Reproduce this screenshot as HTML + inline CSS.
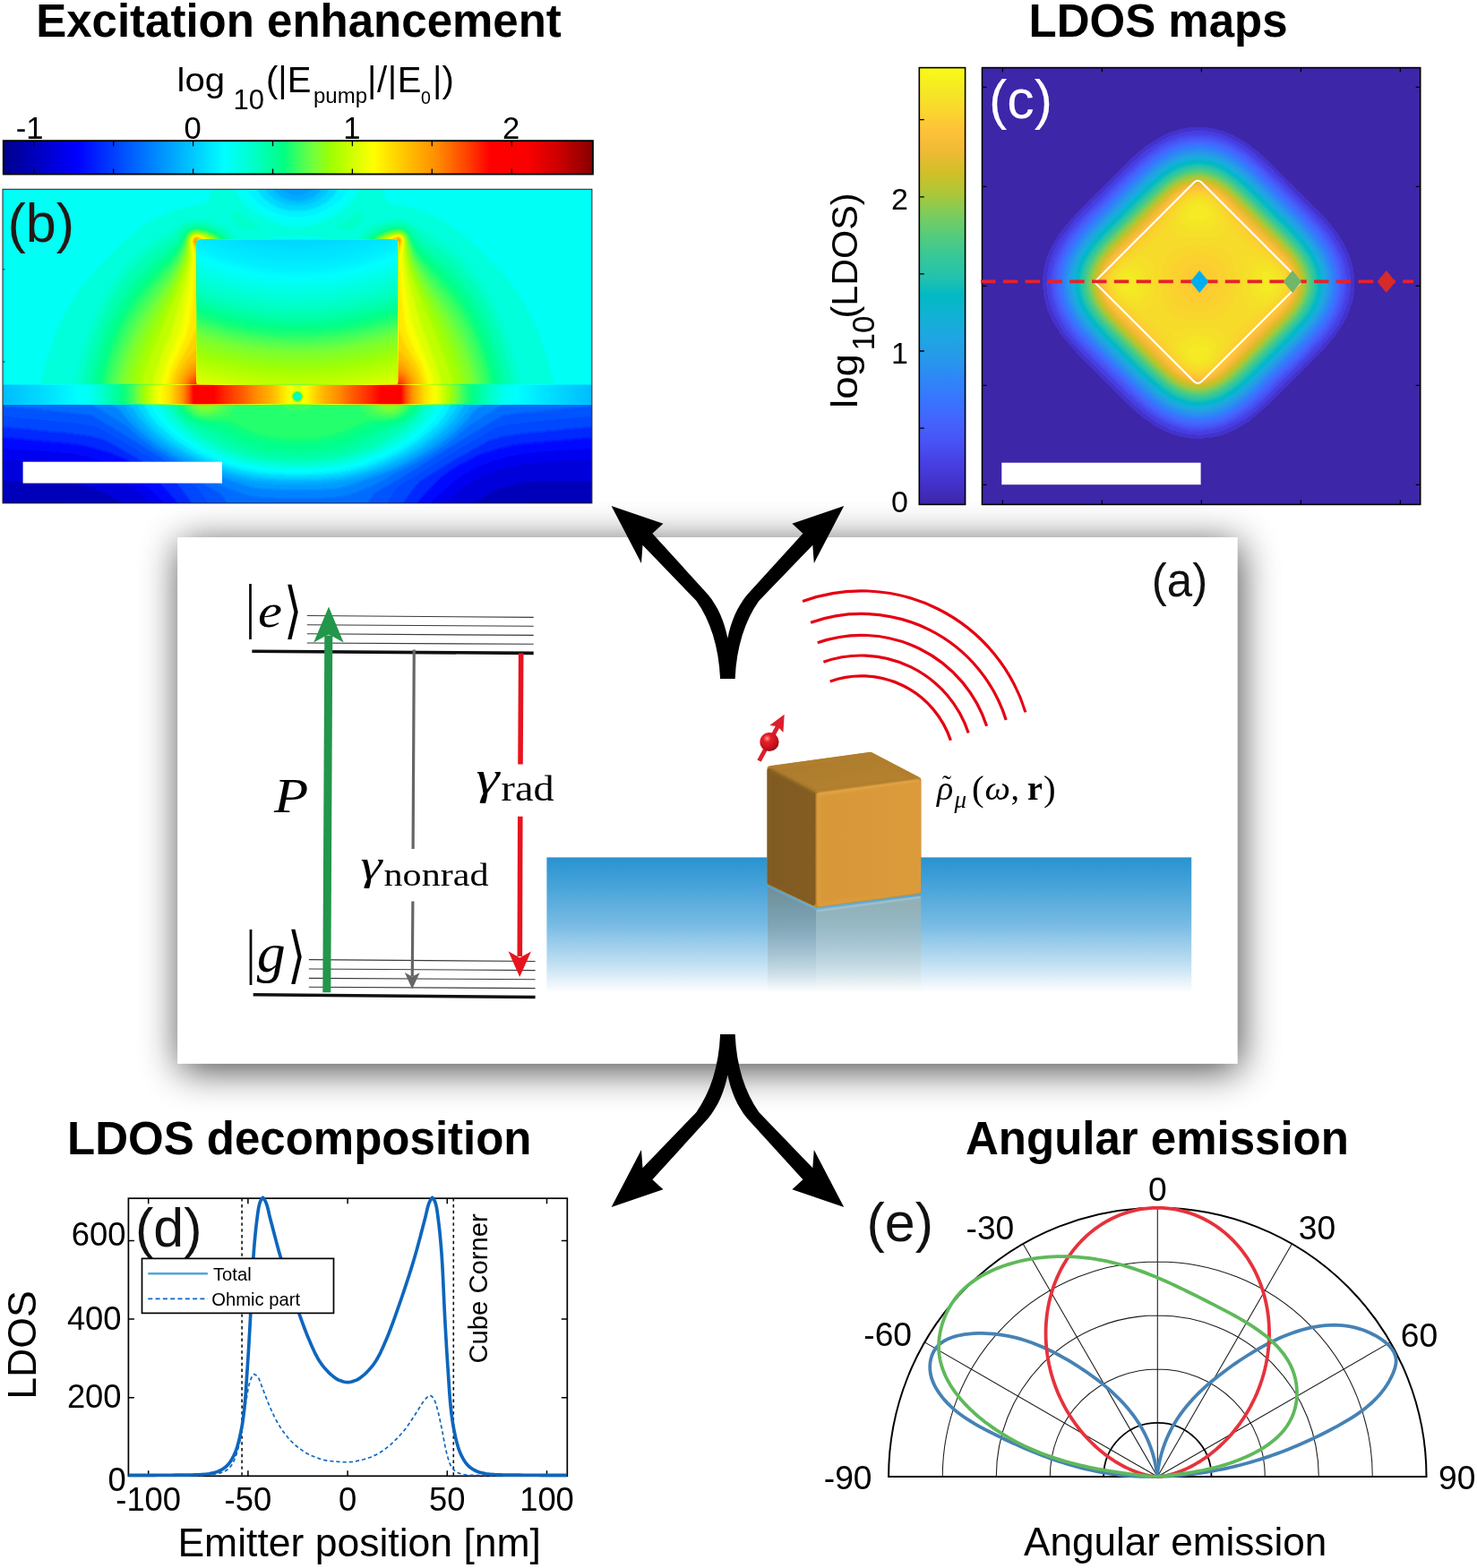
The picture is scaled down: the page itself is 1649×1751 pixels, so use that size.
<!DOCTYPE html>
<html lang="en"><head><meta charset="utf-8"><title>Figure</title>
<style>html,body{margin:0;padding:0;background:#fff;overflow:hidden}svg{display:block}text{white-space:pre}</style></head>
<body><svg width="1649" height="1751" viewBox="0 0 1649 1751">
<defs><filter id="bl1" x="-50%" y="-50%" width="200%" height="200%"><feGaussianBlur stdDeviation="1.2"/></filter></defs>
<rect width="1649" height="1751" fill="#fff"/>
<!-- sec_panel -->
<defs><filter id="fsh" x="-20%" y="-20%" width="140%" height="140%" color-interpolation-filters="sRGB"><feGaussianBlur stdDeviation="22"/></filter></defs>
<rect x="201" y="607" width="1183" height="588" fill="#000" opacity="0.72" filter="url(#fsh)"/>
<rect x="198.1" y="600" width="1183.6" height="587.9" fill="#fff"/>
<!-- sec_b -->
<text x="40.2" y="40.7" font-family='"Liberation Sans", sans-serif' font-weight="bold" font-size="51">Excitation enhancement</text>
<g font-family='"Liberation Sans", sans-serif' fill="#000">
<text font-size="40"><tspan x="197.5" y="102" font-size="37.5" textLength="53.5" lengthAdjust="spacingAndGlyphs">log</tspan><tspan x="260.6" y="121.6" font-size="31">10</tspan><tspan x="297" y="102.6">(|E</tspan><tspan x="350" y="114.5" font-size="24">pump</tspan><tspan x="410" y="102.6" letter-spacing="0.6">|/|E</tspan><tspan x="470" y="116" font-size="19.5">0</tspan><tspan x="483" y="102.6">|)</tspan></text>
<text x="33.1" y="154.7" font-size="34.6" text-anchor="middle">-1</text>
<text x="215.1" y="154.7" font-size="34.6" text-anchor="middle">0</text>
<text x="392.9" y="154.7" font-size="34.6" text-anchor="middle">1</text>
<text x="570.7" y="154.7" font-size="34.6" text-anchor="middle">2</text>
</g>
<linearGradient id="gjet" x1="0" x2="1" y1="0" y2="0"><stop offset="0.0" stop-color="#00008c"/><stop offset="0.125" stop-color="#0000ff"/><stop offset="0.25" stop-color="#0080ff"/><stop offset="0.375" stop-color="#00ffff"/><stop offset="0.425" stop-color="#00ffc8"/><stop offset="0.476" stop-color="#00ff82"/><stop offset="0.5" stop-color="#3cff5f"/><stop offset="0.526" stop-color="#73ff3c"/><stop offset="0.557" stop-color="#a0ff00"/><stop offset="0.593" stop-color="#d2ff00"/><stop offset="0.628" stop-color="#ffff00"/><stop offset="0.668" stop-color="#ffd200"/><stop offset="0.736" stop-color="#ff8c00"/><stop offset="0.79" stop-color="#ff3c00"/><stop offset="0.825" stop-color="#ff0000"/><stop offset="0.89" stop-color="#fa0000"/><stop offset="0.946" stop-color="#c80000"/><stop offset="1.0" stop-color="#870000"/></linearGradient>
<rect x="3.8" y="157.2" width="658.1" height="37.3" fill="url(#gjet)" stroke="#000" stroke-width="1.9"/>
<path d="M37.8 157.2v6M37.8 194.5v-6M126.7 157.2v6M126.7 194.5v-6M215.6 157.2v6M215.6 194.5v-6M304.5 157.2v6M304.5 194.5v-6M393.4 157.2v6M393.4 194.5v-6M482.3 157.2v6M482.3 194.5v-6M571.2 157.2v6M571.2 194.5v-6" stroke="#000" stroke-width="1.3" fill="none"/>
<defs>
<filter id="fjet" x="0" y="0" width="100%" height="100%" color-interpolation-filters="sRGB" filterUnits="objectBoundingBox">
<feComponentTransfer><feFuncR type="table" tableValues="0 0 0 0 0 0 0 0 0 0 0 0 0 0 0 0 0 0 0 0 0 0 0 0 0 0 0 0 0 0 0 0.082 0.235 0.365 0.481 0.57 0.657 0.743 0.827 0.906 0.985 1 1 1 1 1 1 1 1 1 1 1 1 0.999 0.994 0.99 0.985 0.978 0.923 0.869 0.814 0.751 0.677 0.603 0.529"/><feFuncG type="table" tableValues="0 0 0 0 0 0 0 0 0 0.063 0.125 0.188 0.251 0.314 0.376 0.439 0.502 0.564 0.626 0.689 0.751 0.813 0.875 0.938 1 1 1 1 1 1 1 1 1 1 1 1 1 1 1 1 1 0.944 0.875 0.808 0.745 0.682 0.619 0.556 0.468 0.377 0.286 0.189 0.084 0 0 0 0 0 0 0 0 0 0 0 0"/><feFuncB type="table" tableValues="0.549 0.605 0.662 0.718 0.775 0.831 0.887 0.944 1 1 1 1 1 1 1 1 1 1 1 1 1 1 1 1 1 0.933 0.865 0.798 0.717 0.633 0.549 0.462 0.373 0.29 0.195 0.077 0 0 0 0 0 0 0 0 0 0 0 0 0 0 0 0 0 0 0 0 0 0 0 0 0 0 0 0 0"/></feComponentTransfer></filter>
<filter id="bl2" x="-5%" y="-5%" width="110%" height="110%"><feGaussianBlur stdDeviation="1.6"/></filter>
<filter id="bl3" x="-50%" y="-50%" width="200%" height="200%"><feGaussianBlur stdDeviation="3"/></filter>
<clipPath id="cpB"><rect x="3.0" y="211.3" width="657.9" height="350.6"/></clipPath>
<clipPath id="cpTop"><path d="M3.0 211.3H660.9V429.5H3.0Z"/></clipPath>
<clipPath id="cpCube"><rect x="219.1" y="267.3" width="225.5" height="162.2" rx="3.5"/></clipPath>
<clipPath id="cpSub"><rect x="3.0" y="451.7" width="657.9" height="110.2"/></clipPath>
<radialGradient id="gCubeIn" gradientUnits="userSpaceOnUse" cx="332.0" cy="40" r="420">
 <stop offset="0.5" stop-color="#525252"/><stop offset="0.62" stop-color="#5c5c5c"/><stop offset="0.74" stop-color="#707070"/><stop offset="0.84" stop-color="#878787"/><stop offset="0.93" stop-color="#959595"/><stop offset="1" stop-color="#a1a1a1"/></radialGradient>
<linearGradient id="gGap" gradientUnits="userSpaceOnUse" x1="332.0" x2="660.9" y1="0" y2="0">
 <stop offset="0" stop-color="#999999"/><stop offset="0.03" stop-color="#a1a1a1"/><stop offset="0.09" stop-color="#b2b2b2"/><stop offset="0.18" stop-color="#c3c3c3"/>
 <stop offset="0.25" stop-color="#cdcdcd"/><stop offset="0.30" stop-color="#d6d6d6"/><stop offset="0.345" stop-color="#d9d9d9"/><stop offset="0.365" stop-color="#c9c9c9"/><stop offset="0.39" stop-color="#bababa"/><stop offset="0.43" stop-color="#a8a8a8"/>
 <stop offset="0.48" stop-color="#9c9c9c"/><stop offset="0.56" stop-color="#808080"/><stop offset="0.70" stop-color="#636363"/><stop offset="0.85" stop-color="#585858"/><stop offset="1" stop-color="#4f4f4f"/></linearGradient>
<linearGradient id="gSubV" gradientUnits="userSpaceOnUse" x1="0" x2="0" y1="451.7" y2="561.9">
 <stop offset="0" stop-color="#333333"/><stop offset="0.5" stop-color="#1d1d1d"/><stop offset="1" stop-color="#000000"/></linearGradient>
</defs>
<g clip-path="url(#cpB)"><g filter="url(#fjet)">
<rect x="1.0" y="209.3" width="661.9" height="354.6" fill="#626262"/>
<g clip-path="url(#cpTop)"><g filter="url(#bl2)"><rect x="-5.0" y="203.3" width="673.9" height="234.2" fill="#414141"/>
<path fill="#464646" d="M-5 203.5l326.5 0 2 3 1.5 1.5 3 1.5 4.5 0.5 4-0.5 2.5-1.5 1.5-1.5 2-3 327.5 0 0 235.5-675 0z"/>
<path fill="#4c4c4c" d="M-5 203.5l316 0 0.5 3 1.5 3 4.5 4.5 3 1.5 4.5 2 7.5 1 7.5-1.5 6.5-3 4.5-4.5 1.5-3 0.5-3 317 0 0 235.5-675 0z"/>
<path fill="#515151" d="M-5 203.5l307.5 0 1 4.5 2 3.5 3 4 3.5 3 5 3 5 1.5 4.5 1 6 0.5 6-0.5 4.5-1 4.5-2 4.5-2.5 3.5-3 3.5-4.5 1.5-3 1-4.5 308.5 0 0 235.5-675 0z"/>
<path fill="#575757" d="M-5 203.5l299 0 1.5 6 2.5 4.5 3.5 4.5 5.5 4.5 6 3 6 2.5 6 1 7.5 0.5 7.5-0.5 6-1.5 6-2.5 6-3.5 4.5-3.5 3.5-4.5 2.5-4.5 1.5-6 300 0 0 235.5-675 0z"/>
<path fill="#5d5d5d" d="M-5 203.5l289.5 0 2 7.5 3.5 6 5.5 6 5.5 4 7.5 4.5 7.5 2.5 7.5 1.5 9 0.5 9-0.5 7.5-2 7.5-2.5 7.5-4.5 6-5 5-6 3-6 1.5-6 290.5 0 0 235.5-675 0z"/>
<path fill="#626262" d="M-5 203.5l277.5 0 2 7.5 4.5 7.5 6.5 7.5 7.5 6 9.5 5 9 3.5 10.5 2 10.5 1 10.5-1 10.5-2.5 9-3.5 9-5 7.5-6 6-7 4.5-7.5 2-7.5 278.5 0 0 235.5-675 0z"/>
<path fill="#686868" d="M238.5 203.5l22 0 2.5 9 5 9 6 7.5 9 7.5 12 7 13.5 6 12 3.5 12 1 12-1.5 12-3.5 13.5-6 10.5-6.5 9-7.5 6.5-7.5 5-9 2.5-9 22 0 4 16.5 2 4.5 1.5 1.5 4.5 2 18 3 15 4.5 15 6 16.5 9.5 13.5 9.5 13.5 12 27.5 28.5 10 11 9 11.5 8.5 13.5 7.5 13.5 7 15 6 15 6 18 10 40.5-577 0 5.5-24 5-18 5.5-16.5 5.5-15 7-15 8-13.5 8.5-13.5 9.5-12 9.5-10.5 27.5-28.5 13-11.5 13.5-10 15-8.5 16.5-7 15-4.5 19.5-3.5 4-1.5 2-3 1-3zM311.5 264.5l-13 2 4 1.5 4.5 0.5 25.5 0.5 24-0.5 5-0.5 4-1.5-12-1.5-15-1z"/>
<path fill="#6c6c6c" d="M260 236.5l2-1 1.5 0.5 6 3.5 15 10.5 3.5 3 2.5 3-6 1-7.5-0.5-4.5-0.5-7-3-3.5-3-2.5-4.5-0.5-6zM400 236.5l3-1 1 1 1 1.5 0.5 3-1 4.5-1 3-3.5 3.5-6 3-6 1.5-9 0.5-5.5-1 2.5-3 3.5-3 13-9.5zM213.5 245.5l8-1 9 1 9 2.5 10.5 4 6.5 4 6.5 10.5 3.5 6.5 3 3.5 3 2 6 3 6 1.5 15 1.5 64.5 0 9-0.5 7.5-1 7.5-2.5 6-4 3.5-4 3-6 7-10.5 6-4 13.5-5 13.5-2.5 6 0.5 4.5 0.5 9 3.5 34.5 21 13.5 10.5 9 8.5 7.5 8 7.5 10 7.5 10.5 7 12 7 13.5 6.5 15 5.5 15 5 15 4.5 16.5 7 34.5-500.5 0 4-19.5 3.5-16.5 4.5-16.5 5.5-16.5 6.5-16.5 7-15 7.5-13.5 7.5-12 7.5-10.5 8.5-10 9-9 9-8 9-6 18-11 13.5-8.5 6-3z"/>
<path fill="#6f6f6f" d="M217 248.5l9 0 9 2.5 10.5 4.5 7.5 5 5.5 6 2 6 3 6 10 15 4 7.5 2.5 7.5 5 22.5 10.5 55.5 3.5 27 1.5 25.5-211 0 3-16.5 3.5-18 4.5-16.5 5-15 6-15 6-13.5 6.5-12 7-12 7.5-10.5 7.5-9 8-8.5 7.5-6.5 10.5-8 18-11 11-11 4-3 6-3.5zM441 248.5l5.5-0.5 4.5 1 4.5 2 4.5 2.5 13.5 13 19.5 12.5 13.5 10.5 12 12.5 11 14 8 12 7.5 13.5 6 13.5 6 15 5.5 16.5 4.5 16.5 4 18 3 18-210.5 0 1-24 3.5-25.5 10-57 5-22.5 2.5-7.5 4.5-9 11.5-17 4-10 4-4.5 5.5-5 7.5-4 9-3z"/>
<path fill="#717171" d="M212 251.5l5-1.5 6 0 7.5 1.5 6 2 6 2.5 6 3.5 6 5.5 2 3 2.5 9 7 18 4.5 16.5 6 34.5 7.5 51 2.5 22.5 1 19.5-193.5 0 2.5-15 3.5-16.5 4-15 4-13.5 5-13.5 6-13.5 6-12 6.5-11 12-17 13.5-15 12-10 24-17 3-3 7-9.5 5-4.5zM434.5 251.5l7.5-1.5 6 0.5 4.5 1 5 3 4.5 4.5 7 9.5 6 4.5 19.5 13.5 12 10.5 9.5 10 9.5 12 8 12 7.5 13.5 6.5 13.5 6 15 5 15 4.5 16.5 4 18 2.5 16.5-193 0 0.5-21 3-24 10.5-66 3-18 3-12 2.5-7.5 6.5-15 2.5-9 5.5-5.5 6-4 7.5-3.5z"/>
<path fill="#737373" d="M212.5 253l4.5-1.5 4.5 0 6 1 7.5 2 7.5 3.5 4.5 2.5 5 4.5 2 3 2 8 5.5 19 4 21 12.5 88.5 2 18 0.5 16.5-182 0 5.5-30 7.5-27 5-13.5 5.5-12 5.5-12 6.5-10.5 10-15 11.5-13.5 13-12 24.5-19.5 6-6 2-4.5 3-4.5 4-4zM435 253l7-1.5 6 0.5 4.5 1 4 3 4.5 4.5 4 7.5 4 4.5 7.5 6.5 18 14 9 7.5 10.5 11.5 10 13 8 12 6.5 12 6 13.5 5.5 13.5 5 15 4 15 3.5 16.5 3 16.5-182 0 0.5-21 3-24 12-82.5 4.5-22.5 7-22.5 4.5-4.5 6-4 6-2.5z"/>
<path fill="#767676" d="M218 253l8 0.5 10.5 3 6 3 4.5 3 4.5 4 0.5 1.5 6.5 27 3 19.5 12 93 1.5 16.5 0.5 15-173 0 5.5-28.5 7.5-27 9.5-24 6-12 6-10.5 10.5-15 11-13 10-9.5 18.5-16 7.5-7 6-7.5 3.5-7 2.5-4 3-2.5 3-1.5zM443 253l5 0 3 1 3 1.5 3 2.5 3 4 3 6.5 6 8 7.5 7 19 16 9 9 11 12 10.5 15 6 10.5 6 11.5 10 24.5 7.5 27 6 30-173 0 0.5-15 1-16.5 12-93 3.5-19.5 6-27 1-1.5 3-3 8.5-5.5 9-3.5z"/>
<path fill="#787878" d="M215 254.5l3.5-0.5 4.5 0 10.5 2.5 10.5 5.5 4.5 3 2 3 5 25.5 3 21 11.5 97.5 1 15 0 12-164.5 0 5-27 6.5-24 8.5-22.5 11-21.5 9-14 10-12.5 11.5-12 25-23.5 7.5-10 6-11.5 4.5-4.5zM439.5 254.5l5.5-0.5 4.5 0.5 3 1.5 3.5 3 3 4.5 2 4.5 2 3.5 6 8.5 6 6.5 19 17.5 9.5 9.5 9.5 11.5 9.5 13.5 6.5 10.5 6 12 5 12 4.5 12 7.5 25.5 5.5 28.5-165 0 0-13.5 1-13.5 11.5-97.5 3.5-21 5-25.5 0.5-1.5 2.5-2.5 7.5-4.5 7.5-3.5z"/>
<path fill="#7a7a7a" d="M213.5 256l3.5-1 3-0.5 10.5 2 7.5 3 4.5 2.5 4.5 3.5 2 2.5 4.5 28.5 3 22.5 10.5 94.5 1 13.5 0 12-158 0 4.5-24 6.5-24 8-21 10-20.5 9-14 10.5-14 9.5-10 19-19 7.5-8.5 6-9 4-7 2-6 3-3.5zM436.5 256l5.5-1 4.5 0 4.5 1 3.5 3 3.5 4.5 1.5 4.5 3.5 7 6 9 6 6.5 19.5 19.5 8.5 9 8.5 10.5 8 12 6.5 10.5 5.5 10.5 5 12 4.5 12 7.5 25.5 5 27-158 0 1-24 10.5-94.5 3-24 5-28.5 2.5-3 5-3.5 7.5-3.5z"/>
<path fill="#7d7d7d" d="M216.5 256l8 0 10.5 3.5 9 4.5 2.5 2.5 1 1.5 6.5 48 10.5 100.5 0.5 22.5-151.5 0 4.5-23 6-22 8-21 9.5-19.5 8.5-13.5 10-13.5 9-10.5 19.5-21 7.5-9.5 6-10 5-12 2-3 3.5-3zM441.5 256l3.5-0.5 4.5 1 3 1.5 2.5 2.5 2 3 1.5 5 4.5 9.5 4.5 7.5 7.5 9 27.5 30.5 9.5 12 7.5 12 10 19.5 9 22.5 7 24 4.5 24-151.5 0 1-22.5 10-100.5 7-48 2.5-3 6.5-4 7.5-3.5z"/>
<path fill="#7f7f7f" d="M214 257.5l3-1 3 0 4.5 0.5 6 1.5 10.5 5 4 3 1 1.5 5 40.5 6.5 68 4 37 1 13.5 0.5 12-145.5 0 4-21 5.5-21 7.5-19.5 8.5-18 8-13.5 9.5-13.5 9.5-12 18.5-21.5 7.5-9.5 6-10.5 6-15.5 3-4.5zM437.5 257.5l4.5-1 4.5 0 4.5 1.5 3 2.5 2.5 4.5 5 13.5 6 10.5 7.5 10 26 30.5 8 10.5 6.5 10.5 10.5 19.5 9 22 6.5 23 5 24-145.5 0 0-12 1-12 4-36.5 6.5-68.5 5-42 2-2.5 4.5-3 6-3z"/>
<path fill="#818181" d="M216.5 257.5l6.5 0 9 2.5 9 4 3 2.5 0.5 1.5 5 42 6 70.5 4 36 1 22.5-139.5 0 4-19.5 5.5-19.5 6.5-18 8-18 7.5-13 8.5-12.5 9-12 18.5-23 9-12.5 6-12 4.5-14 1.5-3 3-3zM445 257l3 0.5 3 1.5 3 3 1.5 3 6 17 6 11 7.5 10 25.5 32.5 8.5 12 6.5 10.5 9 18 7.5 19.5 6 21 4.5 22.5-139.5 0 1-21 4-39 6-69 5-42 1-1.5 2-1.5 6.5-4 7.5-2.5z"/>
<path fill="#838383" d="M214 259l3-1 3-0.5 9 2 10.5 4.5 3 2.5 1 1.5 4.5 45 6 70.5 4 36 1 19.5-134 0 3.5-18 5-18 6-16.5 7-16 6.5-12.5 8.5-13.5 27-36.5 9-13.5 6-12 5.5-17.5 2-4zM442 258l4.5-0.5 4.5 2 2.5 2.5 1.5 3 5 17 6 12 9 14 24 32 12.5 19.5 9 18 7.5 19.5 6.5 21 4 21-133.5 0 0.5-19.5 4.5-37.5 5.5-69 4.5-45 1-1.5 4.5-3 6-3z"/>
<path fill="#868686" d="M215.5 259l3-1 3 0.5 7.5 1.5 9 4 3.5 2.5 1 1.5 4 46.5 5.5 66 4.5 40.5 0.5 18-128 0 4-18 4.5-16.5 5-15 7-15 6-12 8-13.5 25-36 9-14.5 4.5-9 3-6.5 5-19.5 2.5-3zM439.5 259l5.5-1 3 0.5 3 2 2.5 3 6 21 6.5 13.5 9 14.5 24 35 11.5 19.5 8 16.5 7 18 5 18 4 19.5-128 0 0.5-18 5-40.5 5-66 4.5-46.5 1-2 6-3.5z"/>
<path fill="#888888" d="M218 259l5 0 7.5 2.5 7.5 3.5 2 1.5 1 1.5 4.5 48 4.5 63.5 5 43 0.5 16.5-122 0 3.5-16.5 4-15 5-15 6.5-14.5 12.5-23 25-39.5 9-15.5 6-14 4.5-19.5 1.5-3 3-3.5zM443.5 259l3 0 3 1 3.5 3.5 1 3 4.5 19 6 14 9 16 25.5 39.5 12 22.5 6.5 15 5.5 15 4 15 3.5 16.5-122.5 0 0.5-16.5 5-42 5-64.5 4-48 1.5-2 6-3.5 7.5-2.5z"/>
<path fill="#8a8a8a" d="M214.5 260.5l2.5-1 3 0 7.5 1.5 9 3.5 2.5 2 1 1.5 8 108 5.5 45 0.5 18-116 0 2.5-13 3.5-12.5 4-12.5 5-13 5.5-12 7-13.5 24.5-41.5 9-17 4.5-10 3-8.5 4-20.5 2-3zM438 260.5l5.5-1 4.5 0.5 3 2 2 3 4 19.5 6 16 9 17.5 27 46 7 13.5 5.5 12 4.5 12 4 12.5 6 25-116.5 0 1-18 5-45 8-108 1.5-1.5 3.5-2.5z"/>
<path fill="#8d8d8d" d="M216 260.5l4-0.5 7.5 1.5 8 3.5 2.5 1.5 1 1.5 7.5 106.5 5.5 46.5 0.5 18-109.5 0 5.5-24 8-22.5 11-24 24-44.5 7.5-15 4.5-10.5 3.5-11 4-22.5 2.5-3zM440.5 260.5l4.5-1 3 1 2.5 1.5 2 3 1 4.5 2.5 15 4 13.5 9 20 25.5 47.5 11 22.5 5 13.5 4 12 4 13.5 2.5 12-110 0 1-18 5.5-46.5 7.5-106.5 1-1.5 4-2.5z"/>
<path fill="#8f8f8f" d="M217.5 260.5l5.5 0 6 2 6 2.5 1.5 1.5 1.5 1.5 6.5 105 2 16.5 4 31.5 1 18-103 0 5.5-23.5 8-23 9.5-21 23-47 9-21.5 5-17 2-15 1-6 2.5-3zM443 260.5l5 0.5 1.5 1 2.5 3 1.5 6 1.5 15 5 16.5 9 21.5 23 47.5 9.5 21 8 22.5 6 24-103 0 0.5-18 4.5-33 1.5-15 7-105 1-1.5 4.5-2.5 6-2.5z"/>
<path fill="#919191" d="M215 262l3.5-1.5 6 1 8.5 3.5 2.5 1.5 1.5 1.5 6 105 2 16.5 4.5 31.5 0.5 18-95.5 0 4.5-21 6.5-19.5 8.5-21 22-50 7.5-19.5 3.5-10 2.5-11 2-20.5 1.5-3zM438.5 262l5-1.5 3 0.5 3 1.5 2 2.5 1.5 6 1 15 4.5 17 9 24 22 50.5 8.5 21 6.5 19.5 5 21-96 0 1-18 4.5-31.5 1.5-16.5 6.5-105 1-1.5 2.5-1.5z"/>
<path fill="#949494" d="M215.5 262l3-1 6 1 8 3 2.5 1.5 1 1.5 6 103.5 2 18 4.5 31.5 1 18-92 0 4-18 5.5-18 29-71.5 9-24.5 5-19.5 2-21 1.5-3zM439 262l4.5-1 3 0 3 1.5 1.5 2.5 1.5 4.5 0 10.5 1 7.5 5 18.5 9 25 29 72 6 18 3.5 18-91.5 0 0.5-18 4.5-31.5 2-18 6-103.5 1-1.5 3-1.5z"/>
<path fill="#9a9a9a" d="M218.5 262l4.5 0.5 4.5 1.5 5 2.5 1.5 1.5 0 27 4 73.5 2.5 19.5 5 33 1 9 0 9-77 0 2-13.5 3-12 4-12 14.5-37 13.5-46.5 3.5-15.5 2.5-13.5 0.5-7.5-0.5-10.5 0.5-4.5 2-3zM446.5 262l2.5 1.5 2 3 0.5 4.5-0.5 10.5 0.5 7.5 2 12 3.5 16 6 22 7.5 25 18 48 3.5 13.5 2.5 13.5-77.5 0 0-9 1-9 5.5-33 2-19.5 4-73.5 0.5-27 1.5-1.5 4.5-2.5 4.5-1.5z"/>
<path fill="#9f9f9f" d="M216.5 263.5l2-1 4.5 1 7 3 1.5 1.5-1 28.5 3.5 67.5 2.5 21 6.5 37.5 1 16.5-66 0 2-13.5 3-12 4-10.5 12-28.5 3-10.5 2.5-10.5 6-30 3.5-27 1-12-1.5-13.5 0-3 1-3zM441 263.5l4-1 1.5 0.5 1.5 0.5 2 3 0.5 4.5-1.5 13.5 0.5 11 3.5 25 5 28.5 3 13.5 3.5 10.5 13 31.5 3.5 10.5 3 12 1.5 12-66 0 1-16.5 7-37.5 2.5-21 3-67.5-0.5-28.5 1.5-1.5z"/>
<path fill="#a5a5a5" d="M215.5 265l3-1.5 3 0.5 6 2.5 1.5 1.5-0.5 6-2.5 13.5-0.5 9 2.5 57 1.5 15 2 12 9 42 1 9 0 7.5-56.5 0 1-12 3-10.5 4-10.5 12.5-27 3.5-10.5 2.5-10.5 3-24 2.5-31.5 0-18-3-15 0.5-3zM443.5 263.5l3 0 1.5 1.5 1.5 3 0 3-2.5 12-0.5 13.5 2 33 3.5 27 2 10.5 3.5 10.5 4 9 9.5 19.5 4 10.5 2.5 10.5 1.5 12-57 0 0-9 1.5-9 8-37.5 3.5-22.5 1.5-25.5 1.5-39-0.5-9-2.5-13.5-0.5-6 1.5-1.5z"/>
<path fill="#ababab" d="M217 265l1.5-1 3 0.5 3.5 2 1.5 1.5 0 4.5-2 4.5-1.5 2.5-3 3-1.5-2-3.5-9.5 0-3 0.5-1.5zM442 265l3-1 1.5 0.5 1.5 1.5 0.5 2 0 3-3.5 10.5-1.5 0.5-3-2.5-1.5-3-1.5-4-0.5-3 0-1.5 1.5-1.5zM218.5 368.5l1.5-1 3 5 12 37 3.5 16 1 13.5-49 0 1-12 3.5-12 4.5-9 12-21 3.5-7.5zM443.5 367.5l1.5 0 6 16 12.5 21 4.5 9 4 12 1 6 0.5 7.5-49 0 0.5-12 2-12 12-38z"/>
<path fill="#b0b0b0" d="M216.5 266.5l2-1.5 1.5 0 3 1.5 1.5 1.5-0.5 4.5-2.5 3-1.5 0.5-1.5-0.5-2.5-4.5 0-3zM440.5 266.5l4.5-1.5 2.5 1.5 0.5 3-3 6.5-1.5 0-1.5-1-2-2.5-1-4.5zM218.5 391l1.5-0.5 1.5 1 3 3 3 5.5 4.5 10 2.5 8 2 7.5 0.5 7.5 0 6-42 0 0.5-6 1-6 1.5-6 2.5-6 7.5-12zM443 391l2-0.5 4.5 5 7.5 9.5 5.5 8.5 2.5 6 2 6 1 6 0.5 7.5-42 0 0.5-12 3.5-13.5 4-10 3-6 3-4.5z"/>
<path fill="#b6b6b6" d="M217 266.5l1.5-1 1.5 0.5 3 2-0.5 3-2.5 2-1.5 0-1.5-2-0.5-3zM442.5 266.5l2.5-1 1.5 0.5 1 2-1 3-1.5 2-1.5 0-2-2-0.5-3zM217.5 403l2.5-1 3 1.5 3 3.5 3 5 3 7 2 6.5 1 7.5 0 6-35.5 0 0-6 0.5-4.5 3.5-9 6-9.5 4.5-4.5zM441.5 403l2-1 1.5 0 3 2 6 6 4.5 6 2.5 5 2 6 1 6 0.5 6-35.5 0 0-9 2.5-10.5 4.5-10 3-4.5z"/>
<path fill="#bbbbbb" d="M218.5 266.5l1.5 0 1 1.5 0 1.5-1 1.5-1.5 0-1.5-1.5 0-1.5zM445 266.5l1.5 1.5 0 1.5-1.5 1.5-1.5-0.5-1-1 0-1.5zM218 410.5l2-0.5 3 1 3 3 3 5 3 9.5 0.5 6 0 4.5-29.5 0 0.5-9 3-7.5 4.5-7 3-3zM442.5 410.5l2.5-0.5 3 1.5 4.5 4 3 4 2.5 4.5 1.5 4.5 1 4.5 0 6-29.5 0 0.5-9 2-7.5 4-8 3-3z"/>
<path fill="#c1c1c1" d="M218 268l0.5-1 1 1 0 1.5-1 0zM444 268l1-1 0.5 1-0.5 2-0.5-0.5zM218 416.5l2-0.5 3 1.5 3 3 1.5 2.5 1.5 4 1 4.5 0.5 7.5-24 0 0.5-7.5 2-6 3.5-5.5 3-2.5zM443 416.5l2-0.5 3 1.5 3 2.5 3 4 3 7.5 0 7.5-23.5 0 0-7.5 1.5-6 4-6.5z"/>
<path fill="#c7c7c7" d="M216.5 422.5l2-1 3 0.5 3.5 3.5 2.5 6 0.5 7.5-18.5 0 0-4.5 1-4.5 2.5-4.5zM441.5 422.5l3.5-1 3 1.5 3 3 2.5 5.5 0.5 3 0 4.5-18 0-0.5-4.5 1-4.5 2-4.5z"/>
<path fill="#cccccc" d="M217 427l3-1 3.5 2.5 2 4.5 0 3-0.5 3-12 0-0.5-4.5 1-3 1.5-3zM442 427l3-1 3 2 1.5 1.5 1.5 5-0.5 4.5-12 0-0.5-4.5 1-3 1.5-3z"/>
<path fill="#d2d2d2" d="M217.5 431.5l1-1 1.5 0 2 2.5 1 3-1 3-5.5 0-0.5-1.5-0.5-3zM442.5 431.5l2.5-1 1.5 1 1 1.5 0.5 3-1 3-5 0-1-1.5 0-3z"/>
</g></g>
<g clip-path="url(#cpSub)"><g filter="url(#bl2)"><rect x="-5.0" y="443.7" width="673.9" height="126.2" fill="#010101"/>
<path fill="#080808" d="M-5 443.5l675 0 0 117.5-84 1-7.5 1-9 2-7.5 2.5-8 3.5-444 0-14.5-6-9-2-7.5-1-84-1z"/>
<path fill="#0e0e0e" d="M-5 443.5l675 0 0 105.5-78 0.5-9 0.5-13.5 3-12 4.5-13 6-12 7.5-401 0-12-7.5-12-5.5-13.5-5-12.5-3-8.5-0.5-78-0.5z"/>
<path fill="#141414" d="M-5 443.5l675 0 0 93.5-66 0.5-16.5 1.5-12 2-16.5 4.5-15 7-14 8-13.5 10.5-369 0-13.5-10.5-14.5-8.5-15-6.5-15-4.5-12-2-18-1.5-64.5-0.5z"/>
<path fill="#191919" d="M-5 443.5l675 0 0 81.5-51 0.5-33 2.5-10.5 2-9 2-18 6.5-16.5 8.5-15.5 10.5-14.5 13.5-340 0-14.5-13.5-16-11-16.5-8-18-6.5-9-2-10.5-2-33-2.5-49.5-0.5z"/>
<path fill="#1f1f1f" d="M-5 443.5l675 0 0 69.5-36 0.5-43.5 3.5-16.5 2.5-16.5 4-10.5 4-9 4-9 4.5-9 6-9 6.5-7.5 6-8 7.5-8 9-311 0-7.5-8-7.5-7.5-8-7-8.5-6-9-5.5-9-5-10.5-5-10.5-3.5-15-4-16.5-2.5-43.5-3.5-36-0.5z"/>
<path fill="#242424" d="M-5 443.5l675 0 0 57.5-27 0.5-55.5 4.5-19.5 3.5-19.5 5.5-10.5 4-10.5 5-10.5 6-9.5 6.5-9 7.5-8.5 8-8 8.5-8.5 10.5-283 0-8-9.5-7.5-8.5-9-8.5-9-7.5-9-6.5-10.5-6-10.5-5-10.5-4-19.5-6-19.5-3.5-57-4.5-25.5-0.5z"/>
<path fill="#2a2a2a" d="M-5 443.5l675 0 0 45.5-18 0-70.5 6.5-12 2-12 3-21 6.5-12 5.5-11.5 6-9.5 6-10 7.5-9.5 9-9 9-8.5 10.5-7 10.5-255 0-7-10.5-9-10.5-9-9.5-9-8.5-10.5-7.5-10.5-7-10.5-5.5-12-5-21-6.5-12-3-12-2-69-6.5-18 0z"/>
<path fill="#303030" d="M-5 443.5l675 0 0 33.5-13.5 0-72 7-21 3-18 5-36 20-39.5 24.5-4.5 4.5-8.5 10.5-13 19.5-224 0-13-19.5-8.5-10.5-4.5-4.5-40-24.5-36-20.5-18-4.5-21-3-72-7-12 0z"/>
<path fill="#353535" d="M-5 443.5l675 0 0 21.5-10.5 0-72 7-19.5 2.5-12 2.5-45 25.5-66.5 41.5-1.5 1.5-5.5 7.5-10.5 18-190 0-10.5-18-5.5-7.5-1.5-1.5-65.5-41-22.5-13-24-13.5-15-2.5-16.5-2-72-7-9 0z"/>
<path fill="#3b3b3b" d="M-5 443.5l675 0 0 9-9 0.5-75 7.5-24 2.5-37.5 22-78 49-28 16-2.5 3-11.5 18-145 0-11.5-18-2.5-3-24-13.5-75-47-43.5-26-28.5-3.5-72-7-7.5 0z"/>
<path fill="#414141" d="M103 443.5l458 0 0 7.5-1.5 1.5-35 22-20 17-20.5 14-19.5 11.5-22.5 10.5-18 10.5-15 7-16.5 6.5-15 3.5-21 1.5-33 0.5-30-1.5-13.5-1.5-16.5-5.5-19.5-8.5-22-12.5-27.5-13.5-24.5-15-16-12-13.5-12-36-22.5-1.5-1.5z"/>
<path fill="#464646" d="M123.5 443.5l417 0 0 7.5-11.5 8.5-6 8-8.5 9-10 9-9.5 7.5-11 8-13.5 8-13.5 7.5-13.5 6.5-16.5 6.5-30 10.5-15 4.5-9 1.5-16.5 1-33 0.5-31.5-1.5-7.5-1-9-2-42-14.5-15-6.5-13.5-6.5-13.5-7.5-13.5-8.5-11-8-11-9-12.5-12-9-11.5-11-8z"/>
<path fill="#4c4c4c" d="M138 443.5l388 0 0 7.5-5 9-6.5 9-8.5 9-10.5 9-12 9-14 9-14 8-15 7.5-13.5 5.5-13.5 4.5-13.5 4-13.5 2.5-12 2-16.5 1.5-16.5 0.5-18 0-18-0.5-16.5-1.5-12-2-12-2.5-14-4-14.5-5-15-6-13.5-7-15-8-13.5-9-13-10-10-9-9.5-10.5-7-10.5-2-4.5z"/>
<path fill="#515151" d="M145.5 443.5l373 0 0 7.5-4 7.5-6 9-8.5 9-10 9-11.5 9-12.5 8.5-13.5 7.5-15 7-13.5 5.5-13.5 4.5-13.5 4-12 2.5-12 1.5-16.5 1.5-33 0.5-18-1-16.5-1-12-2-12-2.5-13.5-4-13.5-4.5-13.5-6-14-7-13.5-7.5-13.5-9-11.5-9-9.5-9-9-10.5-7-10.5-1-3z"/>
<path fill="#575757" d="M153 443.5l358 0 0 7.5-3.5 7.5-6.5 9-8 9-9 8.5-11 8-11.5 7.5-13 7.5-14 7-13.5 5-12 4.5-13.5 3.5-12 2.5-12 1.5-16.5 1.5-31.5 0.5-16.5-0.5-16.5-1.5-12-2-12-2.5-13.5-4-13.5-4.5-13.5-6-12-5.5-13.5-8-11.5-8-10-7.5-9.5-9-7.5-9-7-10.5-2-4.5z"/>
<path fill="#5d5d5d" d="M160.5 443.5l343 0 0 7.5-3.5 7.5-5.5 8-6 7-10 9-11 8.5-12 8-13.5 7.5-12.5 6-11.5 5-12 4-12 3-12 2.5-12 1.5-16.5 1.5-30 0.5-31.5-2-22.5-4-13.5-3.5-13.5-5-11.5-5-11-5.5-13.5-7.5-11.5-8-11-9-10-9-7-9-5-9-1.5-3z"/>
<path fill="#626262" d="M168.5 443.5l327 0 0 7.5-4 7.5-5 7.5-7 7.5-9 8.5-10.5 8-10.5 7-12 6.5-12.5 6-22 8.5-21.5 5-26.5 3-30 1-16.5-1-15.5-1.5-20.5-3.5-12-3-12-4.5-12-5-10.5-5-12.5-7.5-11-7.5-11-8-8.5-8.5-7.5-9-5.5-9-1.5-3z"/>
<path fill="#686868" d="M178 443.5l308 0 0 7.5-2.5 6-4.5 7.5-6.5 7.5-6.5 6.5-9.5 7-11.5 8-12 7-12 5.5-21 8-21 5-27 3-28.5 0.5-28.5-2-21-4-10.5-2.5-12-4.5-12-5-11-5.5-11.5-6.5-10.5-7.5-9-7-7.5-7.5-6-7.5-5-9-1-3z"/>
<path fill="#6c6c6c" d="M186.5 443.5l291 0 0.5 7.5-2 6-3.5 6-4.5 6-6.5 6-10.5 8-12 8-11.5 6.5-11 5.5-19.5 7-10.5 2.5-10.5 2.5-25.5 2.5-27 0.5-27-2-21-3.5-10.5-3-10.5-4-10.5-4-10-5.5-11-6-12-8-8.5-7-6.5-6-4.5-6-4-7.5-1.5-4.5z"/>
<path fill="#6f6f6f" d="M190.5 443.5l282.5 0 1 7.5-1.5 6-3.5 6-4.5 5.5-6 5.5-10.5 8-13 8-11 6-10.5 5-19.5 7-19.5 4.5-25.5 2.5-25.5 0.5-25.5-2-21-3.5-20.5-6.5-19.5-9-12.5-7-12-8-7.5-6-6.5-6-4.5-6-3.5-7.5-0.5-3z"/>
<path fill="#717171" d="M193.5 443.5l277 0 1 7.5-2 6-3 6-5 6-6 5-21.5 11.5-19.5 12-9 4.5-16 5.5-19.5 3.5-22.5 2.5-24 0-21-1.5-19.5-2.5-19.5-5.5-11-5-22.5-13.5-17.5-9-4.5-3-5-4.5-5.5-6-4-7.5-1-4.5z"/>
<path fill="#737373" d="M196.5 443.5l271 0 1.5 7.5-1 4.5-3 6-3.5 4.5-4.5 4-7.5 4.5-19.5 8-21 12-12.5 6-13 5-13.5 2.5-21 2.5-22.5 0-21-1-18-2.5-13.5-3.5-15-6.5-22.5-13-22.5-10-9-5.5-5-5.5-3.5-6-1.5-6z"/>
<path fill="#767676" d="M199 443.5l266 0 1.5 7.5-1 4.5-2.5 6-3 3-6 4.5-9 4.5-22 7.5-20 11-12 5-13.5 4.5-14 2-19 2-19.5 0-25.5-2-10.5-1.5-9-2.5-15-6-24-12.5-27-9.5-9-6-3-2.5-2-3-1.5-3-1-4.5 0.5-4.5z"/>
<path fill="#787878" d="M202.5 443.5l259 0 1.5 3 1.5 4.5-1.5 5.5-2 3.5-4.5 4.5-5.5 3.5-10.5 4.5-23 5.5-21 10.5-10 4.5-12 3.5-15 2.5-16.5 1.5-16.5 0-22.5-1.5-19.5-4-14-5-24-12-22-5.5-9-3-8-5-3.5-3-2-3-1.5-3-1-4.5z"/>
<path fill="#7a7a7a" d="M206 443.5l252 0 2.5 4.5 1 4.5-1.5 4.5-4.5 5.5-6 4-7.5 3-7.5 2-16.5 2-6 1.5-6 2.5-18 9-15 4.5-10.5 2-12 1.5-12 1-12 0-19.5-1.5-18-3.5-13.5-4.5-18-9-6-2-6-1.5-18-2.5-10.5-3-8-5-3-3-2-3-1-3-0.5-3z"/>
<path fill="#7d7d7d" d="M209.5 443.5l244.5 0 3.5 4.5 1 4.5-1.5 4.5-3.5 4.5-5.5 3.5-6 2.5-10.5 2-18 0.5-6 0.5-9 3.5-10 5.5-7.5 3-16.5 4.5-14 2.5-13.5 0.5-10 0-18.5-1.5-19.5-3.5-10-4-12.5-6.5-10.5-4-6-1-19.5-0.5-6-1-6-1.5-7.5-4.5-4-5-1.5-3 0-3 1-3z"/>
<path fill="#7f7f7f" d="M213.5 443.5l45 0 3 6 0.5 4.5-1 3-2 3-4.5 4.5-16.5 2.5-6 0-6-0.5-6-1.5-4-2-4-3-2.5-3-1-3-0.5-3 1.5-3zM315.5 443.5l33 0 0 9-2.5 3-3 2-4.5 1-7.5 1-7.5-1.5-4.5-1.5-2.5-2.5-1-3zM405 443.5l45.5 0 4 4.5 1 4.5-0.5 3-2.5 4-3 2.5-5 2.5-5.5 2-6 0.5-12-0.5-12-2-4.5-4.5-2.5-4.5-0.5-3 0.5-3z"/>
<path fill="#818181" d="M217.5 443.5l31.5 0 3 3 1.5 3 0.5 3-0.5 3-1.5 3-1.5 1.5-8 3.5-5.5 1-5 0.5-9-1-4.5-2-3-1.5-2-2-2-3-0.5-4.5 1.5-3zM414.5 443.5l32 0 3 2.5 2 2 1.5 3-0.5 3-1 3-3 3-6.5 3.5-9 1.5-9-0.5-8-3-3-1.5-1.5-1.5-1.5-4.5 0-3 1-3z"/>
<path fill="#838383" d="M219.5 445l4-1.5 14.5 0 4.5 2 3.5 2.5 2 3 0 3-1.5 3-1.5 1.5-6 3-8.5 1.5-7.5-1-6-3.5-1.5-1.5-1.5-3 0-3 0.5-1.5 2.5-2.5zM425 443.5l15.5 0 4.5 2 3 2.5 2 3 0 3-1.5 3-1.5 1.5-2.5 1.5-4 2-7.5 1-8.5-1.5-6-3-1.5-1.5-1.5-3 0-3 0.5-1.5 3-3z"/>
<path fill="#868686" d="M433 445l3 0.5 4.5 1 4.5 2.5 1.5 2 0.5 1.5-0.5 2-2 2.5-4 2.5-6 1.5-6-1-5.5-3-1-1.5-1-3 1-3 4.5-3zM222.5 446.5l6.5-1.5 4.5 0.5 3 1 3 1.5 2 1.5 1 1.5 0 3-2 3-5.5 3-6 0.5-6-1-4.5-3-1.5-2.5 0-1.5 1-3z"/>
<path fill="#888888" d="M229 448l4.5 1 3 2 0.5 1.5 0 1.5-1.5 1.5-2.5 1.5-4 1-4-1-2.5-1.5-1.5-1.5 0-1.5 0.5-1.5 3-2zM433 448l4.5 0.5 3 1 1.5 1.5 1 1.5-0.5 1.5-1 1.5-2.5 2-4.5 0.5-4.5-1-2-1.5-1.5-1.5 0-1.5 0.5-1.5 3-2z"/>
</g></g>
<rect x="332.0" y="429.5" width="328.9" height="22.2" fill="url(#gGap)"/>
<rect x="332.0" y="429.5" width="328.9" height="22.2" fill="url(#gGap)" transform="translate(664.0 0) scale(-1 1)"/>
<circle cx="332.0" cy="442.6" r="8" fill="#9e9e9e"/><circle cx="332.0" cy="442.6" r="5.2" fill="#696969" filter="url(#bl1)"/>
<g clip-path="url(#cpCube)"><rect x="219.1" y="267.3" width="225.5" height="162.2" fill="url(#gCubeIn)"/>
</g>
</g></g>
<rect x="3.0" y="211.3" width="657.9" height="350.6" fill="none" stroke="#222" stroke-width="1"/>
<path d="M3.0 300.9h2.5M3.0 404h2.5M3.0 506h2.5" stroke="#222" stroke-width="1" fill="none"/>
<rect x="25.6" y="515.7" width="222.4" height="23.9" fill="#fff"/>
<text x="8.5" y="269.5" font-family='"Liberation Sans", sans-serif' font-size="61" fill="#231815">(b)</text>
<!-- sec_c -->
<text x="1148.5" y="40.7" font-family='"Liberation Sans", sans-serif' font-weight="bold" font-size="51">LDOS maps</text>
<linearGradient id="gpar" x1="0" x2="0" y1="1" y2="0"><stop offset="0" stop-color="#3e26a8"/><stop offset="0.05" stop-color="#4332cb"/><stop offset="0.1" stop-color="#4741e5"/><stop offset="0.14" stop-color="#4852f4"/><stop offset="0.19" stop-color="#4563fd"/><stop offset="0.24" stop-color="#3875fe"/><stop offset="0.29" stop-color="#2e87f7"/><stop offset="0.33" stop-color="#2797eb"/><stop offset="0.38" stop-color="#20a5e3"/><stop offset="0.43" stop-color="#12b1d6"/><stop offset="0.48" stop-color="#02bac3"/><stop offset="0.52" stop-color="#24c1ae"/><stop offset="0.57" stop-color="#37c897"/><stop offset="0.62" stop-color="#57cc7a"/><stop offset="0.67" stop-color="#81cc59"/><stop offset="0.71" stop-color="#abc739"/><stop offset="0.76" stop-color="#d1bf27"/><stop offset="0.81" stop-color="#f0ba36"/><stop offset="0.86" stop-color="#fec338"/><stop offset="0.9" stop-color="#fad62d"/><stop offset="0.95" stop-color="#f5e924"/><stop offset="1" stop-color="#f9fb15"/></linearGradient>
<rect x="1026.3" y="75.6" width="51.3" height="487.8" fill="url(#gpar)" stroke="#000" stroke-width="1.6"/>
<path d="M1026.3 478.1h5.5M1026.3 392h5.5M1026.3 305.9h5.5M1026.3 219.8h5.5M1026.3 133.7h5.5" stroke="#000" stroke-width="1.3" fill="none"/>
<g font-family='"Liberation Sans", sans-serif' font-size="34" text-anchor="end">
<text x="1013.8" y="571.5">0</text>
<text x="1013.8" y="406">1</text>
<text x="1013.8" y="234.2">2</text>
</g>
<g transform="translate(956.8 456) rotate(-90)" font-family='"Liberation Sans", sans-serif'><text font-size="41.3"><tspan x="0" y="0" textLength="61" lengthAdjust="spacingAndGlyphs">log</tspan><tspan x="64.5" y="19" font-size="35">10</tspan><tspan x="100.5" y="0">(LDOS)</tspan></text></g>
<defs><filter id="fpar" x="0" y="0" width="100%" height="100%" color-interpolation-filters="sRGB">
<feComponentTransfer><feFuncR type="table" tableValues="0.242 0.25 0.258 0.265 0.271 0.275 0.278 0.28 0.281 0.281 0.28 0.276 0.27 0.26 0.244 0.221 0.196 0.183 0.179 0.176 0.169 0.154 0.146 0.138 0.125 0.111 0.095 0.069 0.03 0.004 0.007 0.043 0.096 0.141 0.172 0.194 0.216 0.247 0.291 0.341 0.391 0.446 0.504 0.562 0.617 0.672 0.724 0.774 0.82 0.863 0.903 0.939 0.973 0.996 0.997 0.995 0.989 0.979 0.968 0.961 0.96 0.963 0.969 0.977"/><feFuncG type="table" tableValues="0.15 0.165 0.182 0.198 0.215 0.234 0.256 0.278 0.301 0.323 0.345 0.367 0.389 0.412 0.436 0.46 0.485 0.507 0.529 0.55 0.57 0.59 0.609 0.628 0.646 0.663 0.68 0.695 0.708 0.72 0.731 0.741 0.75 0.758 0.767 0.776 0.784 0.792 0.797 0.801 0.803 0.802 0.799 0.794 0.788 0.779 0.77 0.76 0.75 0.741 0.733 0.729 0.73 0.743 0.766 0.789 0.814 0.839 0.864 0.889 0.913 0.937 0.961 0.984"/><feFuncB type="table" tableValues="0.66 0.708 0.751 0.795 0.836 0.871 0.899 0.922 0.941 0.958 0.972 0.983 0.991 0.995 0.999 0.997 0.989 0.98 0.968 0.952 0.936 0.922 0.908 0.897 0.888 0.876 0.86 0.839 0.816 0.792 0.766 0.739 0.712 0.684 0.655 0.625 0.592 0.557 0.519 0.479 0.435 0.391 0.348 0.304 0.261 0.223 0.191 0.165 0.153 0.16 0.177 0.21 0.239 0.237 0.22 0.203 0.189 0.177 0.164 0.154 0.142 0.127 0.106 0.081"/></feComponentTransfer></filter>
<clipPath id="cpC"><rect x="1096.5" y="75.6" width="489.2" height="487.8"/></clipPath>
<path id="dia" d="M1339.0 199.5L1456 316.5L1339.0 433.5L1222 316.5Z"/>
<clipPath id="cpDia"><use href="#dia"/></clipPath>
<radialGradient id="gV" cx="0.5" cy="0.5" r="0.5"><stop offset="0" stop-color="#fff" stop-opacity="1"/><stop offset="0.5" stop-color="#fff" stop-opacity="0.5"/><stop offset="1" stop-color="#fff" stop-opacity="0"/></radialGradient>
<radialGradient id="gCen" cx="0.5" cy="0.5" r="0.5"><stop offset="0" stop-color="#000" stop-opacity="1"/><stop offset="0.6" stop-color="#000" stop-opacity="0.5"/><stop offset="1" stop-color="#000" stop-opacity="0"/></radialGradient>
</defs>
<g clip-path="url(#cpC)"><g filter="url(#fpar)">
<rect x="1094.5" y="73.6" width="493.2" height="491.8" fill="#000"/>
<g filter="url(#bl2)">
<path fill="#0c0c0c" d="M1329.5 142l10.5-0.5 11 1 11 2.5 11 4 10 5 11 7 10.5 8 11.5 10 55 55 12 13 9.5 12 8.5 13.5 6 13.5 4 13 1.5 14 0 11-2 11-3.5 11-4 10-6 10-7 10-9 11-12 13-51 50.5-13 11.5-11 9-13 8-13 6-13 3.5-14 1.5-11 0-11-2-11-3-10-4.5-10-5.5-10-7-11-9-13-12.5-50.5-50.5-11.5-13-9-11-8-13-6-13-3.5-13-1.5-14 0-10 1.5-10 2.5-10 4-10.5 5.5-9.5 6.5-10 8-10 9.5-11 53-53 13.5-13 11-9 12.5-8 12.5-6.5 13-4.5z"/>
<path fill="#141414" d="M1333 146l11 0 10 1 11 3 10 4.5 10 5.5 10 6.5 11 9 12.5 11.5 50.5 51 12 13 8.5 11 8 13 6 13 3.5 13 1.5 13-0.5 11-2 10-3.5 11-4.5 10-5.5 10-7.5 10-9.5 11-13 14-47.5 47-13 11.5-11 8.5-12 7-13 6-13 3.5-13 1.5-11-0.5-10-2-11-3-10-4.5-10-6-10-7.5-11-9-14-13.5-47-47.5-11.5-12.5-8.5-11-7-12-6-13-3.5-13-1.5-13 0.5-11 2-10 3-10 4-10 5.5-9.5 7-9.5 8-10.5 11-12 50-49.5 13-12 11-9 13-8 12-5.5 12-4z"/>
<path fill="#1d1d1d" d="M1329.5 150l10.5-0.5 10 0.5 10 2.5 10 3.5 10 5 10 6.5 10 7.5 11 10 18.5 18 34.5 34.5 12.5 13.5 8.5 11 8 12 6 13 4 13 1.5 13 0 11-2 10-3 10-4.5 9.5-5 9.5-7 10-8.5 10-11.5 12-49 49-12 11-11 9-13 7.5-12 5.5-12 3.5-13 1.5-11 0-10-2-10-3-9.5-4-9.5-5.5-10-7-10-8.5-12-11-49-49-11-12-9-11.5-7.5-12.5-5.5-12-3.5-12-1.5-13 0-10 1.5-9 2.5-10 4-9 4.5-9 6-9 7.5-10 9-10 51-51.5 13-12 11-9 12-8.5 11-5.5 12-4.5z"/>
<path fill="#252525" d="M1329.5 153l9.5-0.5 10 0.5 10 2 10 4 9 4 10 6.5 10 7.5 11 10 19 18 33.5 34 12 13 9 11 8.5 13 5.5 12 3.5 12 1.5 13 0 10-1.5 10-3 10-4 9-5 9-7 10-8.5 10-11.5 12-48.5 49-12.5 11-11 8.5-12 7.5-12 5.5-12 3.5-12 1.5-10-0.5-10-1.5-10-3-9-4-9-5-10-7-10-8.5-12-11-49-49-11-12-8.5-11-7.5-12-5.5-12-3.5-12-1.5-12 0.5-10 1.5-9 2.5-9 3.5-9 5-9 5.5-9 7.5-9 8.5-10 51-51 12.5-12 10.5-9 12-8 11-6 12-4z"/>
<path fill="#2d2d2d" d="M1329.5 156l9.5-0.5 10 0.5 10 2.5 9 3 10 5 9 5.5 10 8 11 9.5 50.5 50.5 12 13 9 11 8 12 6 13 3.5 12 1.5 12 0 10-1.5 10-3.5 10-4 9-5 9-6.5 9-8 10-11.5 12-47.5 47-12 11-11 8.5-12 7.5-11 5.5-12 3.5-12 1.5-10-0.5-10-1.5-10-3-9-4-9-5.5-9-6.5-10-8-12-11.5-47-47-11-12-8.5-11-7.5-12-5.5-11-3.5-12-1.5-12 0.5-9 1.5-10 2.5-9 3.5-9 5-9 5.5-8 7-9 9-10 50-50.5 12-11.5 11-9 11-7.5 11-5.5 11-4z"/>
<path fill="#353535" d="M1328.5 159l9.5-1 10 1 10 2 9 3 9 4.5 9 5.5 10 8 10 8.5 18 17.5 33 33 12 13 9 11 8 12 5.5 12 4 12 1.5 12-0.5 10-1.5 9-3 9.5-4 9.5-5 9-6.5 9-8.5 9.5-10 11.5-47.5 47-12 11-10.5 8-12 7.5-11 5-11 3.5-12 1.5-10-0.5-9-1.5-9.5-2.5-9.5-4.5-9-5-9-6.5-9.5-8-11.5-10.5-47-47-11-12.5-8-10-7.5-12-5-11-3.5-11-1.5-12 0.5-9 1-9 2.5-9 3.5-8 4-8.5 6-8.5 7-9 8-9.5 16.5-16.5 32.5-33 13-12 10-8.5 11-7.5 11-6 11-4z"/>
<path fill="#3d3d3d" d="M1327.5 162l9.5-1 9 0.5 10 2 9 3 9 4 9 5.5 9 7 10 8.5 17 16.5 34 34 12 13 9.5 11 7.5 11.5 5.5 11.5 4 12 1.5 12-0.5 10-1.5 9-2.5 9-4 9-5.5 9-6 8-8 10-10 11-47 46.5-12 11-10 8-11 7-11 5-11 3.5-12 1.5-10-0.5-9-1.5-9-2.5-9-4-9-5-8-6-10-8-11-10.5-46.5-46.5-11-12-8-10-7-11-5-11-3.5-11-1.5-12 0-9 1.5-8 2-9 3.5-8 4-8 5.5-8 6-8.5 9-9.5 15-16 33-33 12-11.5 10.5-8.5 10.5-8 10-5.5 11-4.5z"/>
<path fill="#454545" d="M1327 165l9-1 9 0 10 2 9 3 9 4 8 5 10 7.5 9 8 17 16 33.5 33.5 12 13 9 11 8 12 5.5 11 3.5 12 1.5 11 0 9-1.5 9-2.5 9-4 9-5.5 9-5.5 8-8.5 10-9.5 10-48 47.5-12 11-9 7-11 7-11 5-10 3-11 1-9 0-9-1.5-9-2.5-9-4-9-5.5-8-5.5-10-8.5-10-9-47.5-48-11-12-7-9-7-11-5-11-3-10-1-11 0-8 1-8 2-8 3-8 4.5-8 5-8 7-9 6.5-8 15.5-16 31-31.5 13-12.5 10-8.5 11-8 11-6.5 10-4z"/>
<path fill="#4e4e4e" d="M1331.5 167l8.5-0.5 9 1 9 2 9 3.5 8 4.5 9 6 9 7 10 9 48.5 48.5 11 12 8 10 7.5 11 5 11 3 11 1.5 11-0.5 9-1.5 9-3 9-3.5 8-5.5 9-6.5 8.5-8 9.5-11 11.5-44 43.5-11 10-10 8-10.5 7-10.5 4.5-11 3.5-11 1-9 0-9-2-9-2.5-8-4-9-5.5-8.5-6-9.5-8-11.5-11-43.5-44-10-11-8-10-7-11-4.5-10-3.5-11-1-11 0-9 1.5-8 2.5-8 3.5-8 4.5-8 5.5-8 6.5-8.5 9-10 46.5-46.5 12-11 9.5-8.5 11-7 10-5.5 10-3.5z"/>
<path fill="#565656" d="M1328.5 170l8.5-1 9 0.5 9 2 8 2.5 8 4 9 5.5 8.5 6.5 9.5 8 16.5 16 33 33 11.5 12.5 8.5 10.5 7.5 11 5 10 3.5 11 1.5 11-0.5 9-1 8-3 9-3.5 8-4.5 8-6.5 8.5-7.5 9.5-9 10-45.5 45-11 10-10 8-10 7-11 5-10 3-11 1.5-9 0-8-1.5-9-2.5-8-3.5-8-5-8.5-6-9.5-8-10-9-45-45-10-11-8-10-7-10.5-5-10.5-3-10-1.5-11 0-8 1.5-8 2-8 3-7 3.5-7 5-8 6-8 8-9 15.5-16 31-31.5 12-11.5 10-8.5 10-7 10-5.5 10-4z"/>
<path fill="#5e5e5e" d="M1333.5 172l8.5-0.5 8 1.5 9 2.5 8 3 8 4.5 8.5 6 8.5 7 11 10 46 46 10 11 8 10 7 11 4.5 10 2.5 10 1.5 11-0.5 9-2 9-3 9-4.5 8-5 8-7 9-20.5 21.5-40 40-10.5 9.5-9.5 7-10 6.5-10 4.5-10 3-11 1-9-0.5-9-2-9-3-8-4-8-5.5-9-7-21.5-20-40-40-9.5-11-7-9-6.5-10-4.5-10-3-10-1-11 0.5-8 1.5-8 2.5-8 3.5-8 5-8 5-7.5 7.5-8.5 9-10 44.5-45 11-10 9-7.5 10-6.5 10-5 10-3.5z"/>
<path fill="#666666" d="M1329 175l8-1 9 0.5 8 2 8 2.5 8 4 8 5 8 6 9 8 16 15.5 32.5 32.5 11.5 12 8 10 7.5 11 5 10 3 10 1.5 11-0.5 9-1.5 8-2.5 8-4 8-5 8-5.5 8-17.5 19-43.5 43-10.5 10-9.5 7-10 6.5-10 5-10 3-10 1-9-0.5-8-1.5-8-2.5-8-4-8-4.5-8-6-19-17.5-43-43-10-11-7-9-6.5-10-5-10-3-10-1-10 0.5-8 1-7 2-7 3-8 4-7 5-7 6-8 7-8 46-46 11.5-11 9-8 9.5-7 9-5 9-4z"/>
<path fill="#6e6e6e" d="M1332.5 177l7.5-0.5 8 1 8 2 8 3 8 4.5 8 5.5 8.5 6.5 9.5 9 46 46 10.5 11 7.5 9.5 7 10.5 4.5 10 3 10 1 10-0.5 9-2 8-2.5 8-4 8-5.5 8-6 8-19.5 21-40.5 39.5-10 9.5-9 7-9.5 6-9.5 4-10 3-10 1-9-0.5-8-1.5-8-3-8-4-8-5-8-6.5-21-19.5-39.5-40-9.5-10.5-7-8.5-6-9.5-4-9.5-3-10-1-10 0.5-8 1-7 2.5-8 3.5-7 4-7 5.5-8 15-17 44-44.5 11-10 9-7.5 10-7 9-4.5 9-3z"/>
<path fill="#767676" d="M1328.5 180l7.5-1 8 0.5 8 1 8 3 7.5 3.5 7.5 4.5 8 6 8.5 7.5 15.5 15 33 33 11 11.5 8 9.5 6.5 10 5 10 3 10 1.5 10-0.5 8-1 8-3 8-3 7-4.5 7-6 8-16 18-44 43.5-10 9.5-8.5 7-10.5 6.5-9 4-9 3-10 1-8 0-8-1.5-8-3-7-3-7-4.5-8-5.5-18-16.5-43.5-43.5-9.5-10.5-7-8.5-6.5-10-4-9-3-9-1-10 0-7 1-7 2-7 3-7 3.5-7 4.5-6 5.5-7.5 7-8 45-45.5 11-10.5 9-8 9-6.5 9-5.5 9-3.5z"/>
<path fill="#7e7e7e" d="M1331.5 182l7.5-0.5 7 0.5 7 1.5 8 3 7 3.5 7 4.5 8 6 9.5 8.5 47.5 47 10 11 7.5 9 6 9 5 10 3 10 1 9 0 7-1.5 8-2.5 8-3.5 7-4 7-6 7.5-16 18-42.5 42.5-9.5 9-9 7-9 6-10 5-10 3-9 1-7 0-8-1.5-8-2.5-7-3-7-4.5-7.5-5.5-18-16-42.5-42.5-9-10-7-8.5-6-9-5-10-3-10-1-9 0-6 1-7 2-7 2.5-7 4-7 4.5-7 6-7.5 8-8.5 45-46 10-9 9-8 8-5.5 9-5 10-4z"/>
<path fill="#878787" d="M1334.5 184l7.5 0 7 1 8 2 7 3.5 7 4 7 5 8 6.5 9 8.5 45 45 9 9.5 7 9 6 9 4.5 9 2.5 9 1.5 10-0.5 8-1.5 7-3 8-3.5 7-4.5 7-6 8-17.5 18.5-40.5 40.5-9.5 8.5-8 6.5-10 6.5-9 4-9 2.5-9 1-8-0.5-7-1.5-8-3-7-3.5-7-4.5-8-6-18.5-17-40.5-41-8.5-9-6.5-8.5-6.5-9.5-4-9-2.5-9-1-9 0.5-7 1-7 2.5-7 3-7 4.5-7 5-7 14.5-16.5 44-43.5 9.5-9 8.5-7 9-6.5 9-4.5 9-3z"/>
<path fill="#8f8f8f" d="M1329 187l7-1 7 0 7 1.5 7.5 2.5 7.5 3.5 7 4 7 5.5 8 7 48 47.5 10 10.5 7.5 9 7 10 4.5 9 3 9 1 9 0 7-1.5 7-2 7-3.5 7-4 7-5 7-15 16-43.5 44-9.5 8.5-8 6.5-9 6-9 4.5-9 3-9 1-7 0-7-1.5-7-2-7-3-7-4.5-7-5-16-14.5-44-44-8.5-9-6.5-8-6-9-4.5-9-3-9-1-9 0-7 1-6 2-6 2-6 3.5-6 4-7 11.5-13 44.5-45.5 19-17.5 9-7 8-4.5 8-3.5z"/>
<path fill="#979797" d="M1331 189l6-1 7 0.5 7 1.5 7 2.5 7 3.5 6.5 4 6.5 5 8 7 48 47.5 10 10.5 6.5 8 6.5 9 4.5 9 3 9 1 9 0 7-1 7-2.5 6.5-3 6.5-3.5 6-5 7-14.5 16-43.5 44-9.5 8.5-8 6.5-9 6-9 4.5-8 2.5-9 1.5-7-0.5-7-1-6.5-2-6.5-3-6-3.5-7-5.5-16-14-44-44-8.5-9-6.5-8-6-9-4.5-9-2.5-8-1.5-9 0.5-7 1-6 1.5-6 2.5-6 3.5-6 4-6 11.5-14 46-46 17-16 9-6.5 8-4.5 8-3.5z"/>
<path fill="#9f9f9f" d="M1333 191l6-0.5 7 0.5 6.5 2 6.5 2.5 7 3.5 6 4 7 5.5 8 7.5 47 47 9 9.5 6.5 7.5 6 9 4.5 9 2.5 8 1 9-0.5 7-1 6-2.5 7-3.5 6.5-4 6.5-5 7-15 16-43 42.5-8.5 8.5-7.5 6-9 5.5-8 4-8 2.5-9 1-7-0.5-6-1-7-2.5-6.5-3-6.5-4-7-5.5-16-14.5-42.5-43-8.5-9-6-7-5.5-9-4-8-2.5-8-1-9 0.5-7 1-6 2-6 2.5-6 3.5-6 4.5-6 12-14 45-45 16.5-15 8.5-6.5 8-4 8-3z"/>
<path fill="#a7a7a7" d="M1337 193l6 0 7 1.5 7 2.5 6 3 6.5 4 6.5 5 17 16 42 42 8 8.5 6 7.5 5 8 4 8.5 2.5 8.5 0.5 8-0.5 8-2 8-4 8-5.5 8.5-5.5 7.5-7.5 8-37 37-19.5 19-7.5 6-6 4-7 4-7 2.5-7 2-7 0.5-7-0.5-7-2-7-2.5-7-4-6-4-7-6-20-19-36.5-37-7.5-8-6-7.5-5.5-8.5-3.5-8-2-8-1-8 0.5-7 1.5-6 2-6 4-7 4-6 5-7 15-16 41.5-41 8.5-8 7-6 8-5.5 8-4 8-2.5z"/>
<path fill="#afafaf" d="M1330 196l6-1 7 0.5 6 1 6 2 6 3 6 3.5 6.5 5 7 6 49.5 49 14.5 16 6.5 9 4 8 3 8 1 8 0 6-1 6-2 6-2.5 6-4 6-4 6-12.5 13.5-46 46-15 13.5-8 5.5-8 4.5-8 2.5-8 1-6 0-6-1-6-2-6-2.5-6-3.5-6-4.5-13.5-12-46-46-13.5-15-5.5-8-4.5-8-2.5-8-1-8 0-6 1-5 1.5-6 2-5 6.5-11 10-12 48-48 14.5-14 8-6 7-4.5 7-3z"/>
<path fill="#b8b8b8" d="M1332 198l6-0.5 6 0 6 1.5 6 2.5 6 3 5.5 3.5 13 11 49.5 49 13.5 15 5.5 8 4 8 2.5 8 1 8 0 6-1.5 6-2 5.5-2 5.5-4 6-4.5 6-12.5 13.5-45 45.5-15 13-8 5-8 4-7 2.5-8 1-6-0.5-6-1-5.5-2-5.5-2.5-6-4-6-4.5-13.5-12-45.5-45.5-13-14.5-5-8-4-8-2.5-7-1-8 0.5-6 1-5 3.5-10 6.5-11 10-11.5 48.5-48.5 13.5-13 8-6 7-4 7-2.5z"/>
<path fill="#c0c0c0" d="M1334.5 200l5.5-0.5 5 1 6 1.5 6 2.5 5 2.5 6 4.5 12 10.5 50 50 12 13 5 7.5 4 7.5 2.5 7 1 8-0.5 5-1 6-2 5.5-2.5 5.5-7.5 11-11 12-48 48-13 11.5-7.5 5.5-7.5 3.5-7 2.5-8 1-5 0-6-1.5-5.5-1.5-5.5-2.5-11-7.5-12-11-48-48-11.5-13-5.5-7.5-3.5-7.5-2.5-7-1-8 0-5 1-5.5 2-5.5 2-5 6.5-10 10.5-12 50-50 12-11 7-5.5 7-3.5 7-3z"/>
<path fill="#c8c8c8" d="M1331.5 203l5.5-1 5 0.5 6 1 5 2 5.5 2.5 5.5 3.5 11.5 9.5 52.5 52.5 11 12 5.5 7.5 4 7 2 7 1.5 8-0.5 5-1 5-1.5 5-2 5-7 10-11 12.5-49.5 49.5-11.5 10-8 6-7 3.5-7 2-7 1-5-0.5-5-0.5-5-2-5-2-10-6.5-12.5-11-49.5-49.5-10-11.5-6-8-3.5-7-2-7-1-7 0.5-5 0.5-5 3.5-9 5.5-9 8.5-10.5 52-52 10.5-9.5 6.5-5.5 7-4.5 6-2.5z"/>
<path fill="#cecece" d="M1330 206l5-1 5 0 6 0.5 5 1.5 5 2.5 5 3 11 8.5 54 54 10.5 11 5 7 4 7 2.5 7 1 7 0 5-0.5 5-3.5 9-6.5 10-9.5 10.5-51 51.5-11 9.5-7 5.5-7 3.5-6.5 2.5-6.5 0.5-5 0-5-0.5-9-3.5-10-6-10.5-9.5-51.5-51.5-9.5-10.5-5.5-7-3.5-7-2.5-7-0.5-6 0.5-9 3-9 5-9 7.5-9 54-54 8.5-8.5 6-5 6-4 6-3z"/>
<path fill="#d1d1d1" d="M1330 207l5-1 5 0 5 0.5 5 1.5 5 2 5 3 11.5 9 27.5 28.5 29 28 8 8.5 5 7 4 7 2 7 1 7-1 9-2.5 8-5.5 9-8 9-27 26-28.5 30-8.5 7.5-7 5-7 4-7 2.5-7 0.5-9-0.5-8-3-9-5.5-9-7.5-26-27-30-29-7.5-8-5-7-4-7-2.5-7-0.5-7 0.5-9 3-8 4.5-8 7.5-9.5 30-29 32-33 6-5 6-4 6-3z"/>
<path fill="#d4d4d4" d="M1330.5 208l4.5-1 5 0 9 1.5 9 4.5 4.5 3 5 4 31.5 33 30 28.5 7 7.5 4.5 6 3.5 7 2 6 1 7-1 8.5-2.5 8.5-5.5 8-7 8-29 28-29.5 31-7.5 7-6 4-7 4-6 2-7 0.5-8.5-0.5-8.5-3-8-5-8-7-28-29-31-30-7-7.5-4-5.5-4-7-2-6.5-0.5-6.5 0.5-8 2.5-8 4.5-8 6-7 32-31 28-29 7-7 5-4 5-3.5 5-2z"/>
<path fill="#d7d7d7" d="M1330.5 209l4.5-1 5 0 4 0.5 5 1.5 8.5 4 9 7 31.5 33 30 28.5 7 7.5 4.5 6 3.5 6 2.5 7 0.5 6-1 8.5-3 8-4.5 7.5-7 8-30.5 28.5-28.5 30.5-7.5 7-6 4-6 4-7 2-6 0.5-8.5-0.5-8-3-7.5-5-8-7-28.5-30-30.5-29-7-7.5-4-5.5-4-6.5-2-6.5-0.5-6 0.5-7 2-8 4.5-7 6.5-8 32.5-31 27.5-29.5 7-6.5 9.5-7 4-2z"/>
<path fill="#dadada" d="M1332.5 210l4.5-0.5 4 0 8 2 8.5 4.5 8.5 6.5 31 32.5 30 28.5 7 7.5 4.5 6 3.5 6 2 6 0.5 6-0.5 8-3 7-4.5 8-7 8-30.5 28.5-28.5 30.5-7.5 7-6 4-6 3.5-6 2-6 1-8-1-7-2.5-8-5-8-7-28.5-30-30.5-29-7-7.5-4-5.5-3.5-6-2-6-1-6 1-8 2.5-7 4.5-7 5.5-7.5 32.5-30.5 27.5-29.5 7-6.5 5-4 5-3.5 5-2z"/>
<path fill="#dedede" d="M1331 212l4-1 4 0 8 1.5 8 3.5 9 7 32 33.5 29 27.5 8 8 4 5.5 3 5.5 2.5 6 0.5 6-0.5 7-2.5 7-4 7-7 8-31.5 30-27.5 29-8 7.5-5.5 4.5-5.5 3-6 2-6 0.5-7-0.5-7-2.5-7-4-8-6.5-30-32-29-27.5-7.5-7.5-4.5-6-3-5.5-2-5.5-0.5-6 0.5-7 2.5-7 4-7 5.5-7 33-31.5 33.5-34.5 9-7 4.5-2.5z"/>
<path fill="#e1e1e1" d="M1334 213l7-0.5 8 2 7.5 4.5 7.5 6 7 7 13 15.5 10.5 11.5 12 11 15.5 13 9.5 10 4.5 6 3 5 1.5 5 1 6-0.5 7-2.5 7-4.5 7-6 7-7 6.5-16 13.5-10 9.5-11 11.5-13 16-10 9.5-6 4.5-5 2.5-5 1.5-6 1-7-0.5-7-2.5-7-4.5-7-6-6.5-6.5-13.5-16-9.5-10-11.5-11-16-13.5-9.5-9.5-4.5-6-2.5-5-1.5-5-1-6 0.5-7 2-6 4-7 6-7 6.5-7 16-13 11-10.5 11-12 13.5-15.5 8.5-9 5-4 5-3 5-2zM1334 305l-4 2-2.5 4-1 4 0.5 5 2.5 4 3.5 2.5 4 1 5-0.5 4-2.5 3-3.5 1-4-1-5-2-4-4-3-4-1z"/>
<path fill="#e4e4e4" d="M1332 215l7-1 4 0.5 4 1 8 4 8 6.5 18 22 12 13 11.5 11 20.5 16.5 5 5 4.5 5.5 2.5 5 2 5.5 1 5.5-1 7-2 6-3.5 6-5.5 6.5-22 18.5-13 11.5-11 11.5-16.5 21-5 5-5.5 4-5 2.5-5.5 2.5-5.5 0.5-7-0.5-6-2.5-6-3.5-6.5-5-18.5-22.5-11.5-12.5-11.5-11-21-16.5-5-5.5-4-5-2.5-5-2.5-6-0.5-5 0.5-7 2.5-6 3.5-6 5-7 22.5-18 12.5-12 11-11.5 16.5-20.5 4-4 8.5-6.5 4-2zM1332 294l-4 1-4 2.5-3 2.5-2.5 4-1.5 4-1.5 5 0 5 0.5 4 1.5 4 2.5 4 2.5 3 3.5 2.5 4 1.5 5 1.5 5 0 4-0.5 4-1.5 4-2.5 3-2.5 3-3.5 1.5-4 1.5-5 0-5-1-4-1-4-2.5-4-2.5-3-4-3-4-1.5-5-1.5-5 0z"/>
<path fill="#e7e7e7" d="M1337 216l5 0 6 2 6 3 4 3 6 7 15 19 11.5 13 14.5 13 20 15.5 6 6 3.5 4.5 2 5 1 4 0.5 5-0.5 5-1 4-2 5-3.5 4.5-6 5.5-20 16-14.5 13-12.5 14-14 17.5-5 6.5-4 3-6 3.5-5 1.5-6 1-5-0.5-4-1.5-5-2-4.5-3-5.5-6-16-20-13-15-14-12-17.5-14-6.5-5.5-3-3.5-3.5-6-1.5-5-1-6 0.5-5 1.5-5.5 3-5.5 3.5-4 6.5-6 19-15 13-11.5 13-14.5 16-20 5.5-6 3.5-2.5 5-2.5 4-1.5zM1330 283.5l-7 2-6 3-5 4.5-3.5 6-2 7-1 9 0.5 9 2 7 2.5 5 3.5 4.5 4.5 3.5 5.5 2.5 7 1.5 8 0.5 7.5-0.5 6.5-2 5-2.5 5-3.5 3-4.5 3-5.5 1.5-7 0.5-8-1-7.5-1.5-6.5-2.5-5-3-4-3.5-3-4.5-2.5-5-2-6-1-7-0.5z"/>
<path fill="#eaeaea" d="M1334 218l7-0.5 4.5 1.5 5.5 2.5 5 4 5 5.5 7.5 10 7.5 14 7.5 10 5 5 6 5 8 5 9.5 4.5 14.5 11.5 3.5 4 3.5 5 2.5 6 0.5 4-0.5 5-1.5 5-2.5 4-4 5-6 5.5-9 6.5-14 8-10 7-5 5-5 6-5 8-4.5 10-11.5 14-4 4-5 3-6 2.5-4 0.5-5 0-5-2-4-2-5-4-5.5-6-6.5-9-8-14.5-7-9.5-5-5-6-5-8-5-10-5-14-11-4-4.5-3-4.5-2.5-6-0.5-4 0-5 2-5 2-4.5 4-4.5 5.5-5 9.5-7.5 14.5-7.5 5.5-4 5-4.5 5-5 4.5-5.5 4.5-7.5 5-9.5 10-13 4-4 4-3.5 4-2zM1327 274.5l-10 2-7 3.5-3 2-3 3-2.5 4-1.5 4-2 5-1 6-0.5 15 1.5 13 2.5 9 3.5 5.5 5 4.5 5 3 7 2 11 1 14 0 10-1 7-2.5 6-3.5 4-5 3-5 2.5-7 1-11 0-14-1.5-10-2-7-3-5-4-4-4-2.5-5.5-2.5-6.5-1.5-7-1-10 0z"/>
<path fill="#ededed" d="M1334 221l6-0.5 3 0.5 4 1.5 4 2.5 3 2.5 7 7.5 7.5 20-1.5 2.5-3 3.5-5 2.5-5 2-15 0.5-16-0.5-4-1-5-2.5-3-2.5-2.5-2.5-0.5-2 0-1 7.5-19 4.5-5.5 4-4 5-3zM1277 285.5l1 0 2 1.5 3 3 2.5 4 2.5 6 0 10 0 22-2 5-3 4.5-3 3.5-3 1-19-7-5-4-4-4-3.5-5-2-5-1-5 1-5 2-5 2.5-4.5 5-4.5 5-4.5zM1398 286l1-0.5 1 0 17 6.5 4 3 5.5 5 4 5 2.5 5 0.5 6-0.5 5-2 5-3.5 5-4.5 4-5 4-19 7-2-0.5-3-3-4-6.5-1.5-4-0.5-10 0.5-22 3.5-8.5 2.5-2.5zM1331 366l23 0 5 2 4 2.5 3 2.5 2.5 3 0 2-7.5 19-5 5-4 4-4 3-5 1.5-6 1-5-1-5-2.5-5-4-7-8-7-19 0.5-2 2.5-3 6-4 5-2z"/>
<path fill="#f1f1f1" d="M1334.5 224l5.5-0.5 5 1.5 5 3 4 4 2.5 6 2.5 9-3 3.5-4 3-4 2-5 1.5-5 0.5-5-0.5-5-1.5-4-2-3.5-2.5-3-3-0.5-1 2-7 4-9 5-4.5zM1269 295l1 0.5 3 2.5 4 6 2 6 1 6-1 6-2 6-4 5.5-4 3.5-10-3-6-3-3-3-2.5-4-1.5-4 0-4 0-4 1.5-4 2.5-4 3-3.5 6-2.5zM1407 295l10 3 6 2.5 3 3.5 2.5 4 1.5 4 0.5 4-0.5 4-1.5 4-2.5 4-3 3-6 3-10 3-4-3.5-3.5-5.5-2.5-6-0.5-6 0.5-6 2.5-6 3-5zM1332.5 375l7.5-1 7.5 2 6.5 3.5 3 2.5 2 2.5-3 10.5-2.5 6-4.5 3.5-5 2.5-3 1-4 0-3 0-4-1.5-4-2.5-3-3-2.5-5-3.5-11 0.5-1 3-3 3.5-3 4-2z"/>
<path fill="#f4f4f4" d="M1338 227l4.5 1 3.5 3 3 5 2 6-2 1.5-3 2-6 2-4 0-4-1-4-2-2.5-2.5 2-6 2.5-5 4-3zM1264 303l2 2 2.5 4 1.5 5 0 4-1 4-2 4-3 2.5-6-2-4.5-2.5-3.5-4-1-3 0-2 1-3.5 2-2.5 4-3zM1412 303l3 1 7 3 4 4 1 4.5-1 4.5-3 3.5-5 3-6 2-1.5-1.5-2-3-1.5-3-0.5-4 0.5-4 0.5-3 1.5-3zM1333.5 385l4.5-1 5 1 4.5 2 3.5 3-1.5 5-2 4-2.5 3-2.5 2-4.5 1-4-1-3.5-3-2.5-4-2.5-7 3.5-3z"/>
</g>
</g></g>
<rect x="1096.5" y="75.6" width="489.2" height="487.8" fill="none" stroke="#000" stroke-width="1.6"/>
<path d="M1119.4 75.6v5M1119.4 563.4v-5M1096.5 97.3h5M1585.7 97.3h-5M1230.4 75.6v5M1230.4 563.4v-5M1096.5 208.3h5M1585.7 208.3h-5M1341.4 75.6v5M1341.4 563.4v-5M1096.5 319.3h5M1585.7 319.3h-5M1452.4 75.6v5M1452.4 563.4v-5M1096.5 430.3h5M1585.7 430.3h-5M1563.4 75.6v5M1563.4 563.4v-5M1096.5 541.3h5M1585.7 541.3h-5" stroke="#000" stroke-width="1.3" fill="none"/>
<path d="M1332.3 204.5Q1337.3 198.9 1342.3 204.5L1452.7 314.9L1342.3 425.3Q1337.3 430.9 1332.3 425.3L1221.9 314.9Z" fill="none" stroke="#fff" stroke-width="2.1" stroke-linejoin="round"/>
<path d="M1095 314.4H1578" stroke="#e8212a" stroke-width="3.6" stroke-dasharray="16.5 8.3" fill="none"/>
<path d="M1339.2 302.0l10.2 12.5l-10.2 12.5l-10.2 -12.5Z" fill="#00aeef"/>
<path d="M1443 302.0l10.2 12.5l-10.2 12.5l-10.2 -12.5Z" fill="#70b66b"/>
<path d="M1547.8 302.0l10.2 12.5l-10.2 12.5l-10.2 -12.5Z" fill="#d62b28"/>
<rect x="1118.3" y="516.7" width="222.3" height="24.5" fill="#fff"/>
<text x="1104" y="131.5" font-family='"Liberation Sans", sans-serif' font-size="61" fill="#fff">(c)</text>
<!-- sec_a -->
<g stroke="#3a3a3a" stroke-width="1.1" fill="none">
<path d="M342.8 687.5L595.7 689.4"/>
<path d="M342.8 697.7L595.7 699.3"/>
<path d="M342.8 707.8L595.7 709.4"/>
<path d="M342.8 718L595.7 719.3"/>
<path d="M344.9 1071.6L597.6 1073.5"/>
<path d="M344.9 1082L597.6 1083.6"/>
<path d="M344.9 1092.4L597.6 1093.7"/>
<path d="M344.9 1102.3L597.6 1103.6"/>
</g>
<path d="M281.4 727.3L595.7 729.4" stroke="#111" stroke-width="3.6" fill="none"/>
<path d="M282.7 1110.8L597.6 1113.5" stroke="#111" stroke-width="3.6" fill="none"/>
<path d="M364.8 1108.2L366.8 709.5" stroke="#22964a" stroke-width="9" fill="none"/>
<path d="M367 677.4L383.6 717.6L367 708.2L350.2 717.4Z" fill="#22964a"/>
<path d="M462.3 725.4L461.1 948M460.9 1006.5L460.3 1090" stroke="#666" stroke-width="3.2" fill="none"/>
<path d="M460.2 1104.5L451.8 1086L460.2 1090.5L468.6 1086.3Z" fill="#666"/>
<path d="M581.7 729.6L581 853.5M580.8 911.8L580.3 1068" stroke="#e6141f" stroke-width="5.6" fill="none"/>
<path d="M580.2 1091L567.5 1062.3L580.3 1069.5L593 1062.5Z" fill="#e6141f"/>
<g font-family='"Liberation Serif", serif' fill="#000">
<text><tspan x="273.9" y="700.3" font-size="68" textLength="11" lengthAdjust="spacingAndGlyphs">|</tspan><tspan x="287.9" y="699.6" font-size="53" font-style="italic" textLength="27" lengthAdjust="spacingAndGlyphs">e</tspan><tspan x="317.1" y="705" font-family="DejaVu Sans, sans-serif" font-weight="200" font-size="69" textLength="20.5" lengthAdjust="spacingAndGlyphs">⟩</tspan></text>
<text><tspan x="274.5" y="1085.8" font-size="68" textLength="11" lengthAdjust="spacingAndGlyphs">|</tspan><tspan x="286.7" y="1084.7" font-size="61" font-style="italic" textLength="32" lengthAdjust="spacingAndGlyphs">g</tspan><tspan x="321.2" y="1090.4" font-family="DejaVu Sans, sans-serif" font-weight="200" font-size="69" textLength="20.5" lengthAdjust="spacingAndGlyphs">⟩</tspan></text>
<text x="306" y="907" font-size="54" font-style="italic" textLength="38.3" lengthAdjust="spacingAndGlyphs">P</text>
<text><tspan x="531.5" y="886" font-size="52" font-style="italic" textLength="26" lengthAdjust="spacingAndGlyphs">γ</tspan><tspan x="559.5" y="894.1" font-size="39" textLength="59" lengthAdjust="spacingAndGlyphs">rad</tspan></text>
<text><tspan x="402.5" y="982.3" font-size="48" font-style="italic" textLength="24" lengthAdjust="spacingAndGlyphs">γ</tspan><tspan x="428.5" y="988.8" font-size="35" textLength="117" lengthAdjust="spacingAndGlyphs">nonrad</tspan></text>
</g>
<text x="1285.8" y="666.4" font-family='"Liberation Sans", sans-serif' font-size="51" fill="#111">(a)</text>
<defs><linearGradient id="gsub" x1="0" x2="0" y1="0" y2="1"><stop offset="0" stop-color="#2893d1"/><stop offset="0.2" stop-color="#45a2d8"/><stop offset="0.5" stop-color="#78bbe3"/><stop offset="0.8" stop-color="#c4e1f3"/><stop offset="1" stop-color="#fff"/></linearGradient>
<linearGradient id="grefl" x1="0" x2="0" y1="0" y2="1"><stop offset="0" stop-color="#fff" stop-opacity="1"/><stop offset="1" stop-color="#fff" stop-opacity="0"/></linearGradient>
<mask id="mrefl" maskUnits="userSpaceOnUse" x="840" y="985" width="200" height="123.4"><rect x="840" y="985" width="200" height="123.4" fill="url(#grefl)"/></mask>
<linearGradient id="gtop" x1="0" x2="1" y1="0" y2="1"><stop offset="0" stop-color="#a87a2c"/><stop offset="1" stop-color="#b98430"/></linearGradient>
<linearGradient id="gfront" x1="0" x2="1" y1="0" y2="0"><stop offset="0" stop-color="#d7983a"/><stop offset="1" stop-color="#dc9b3b"/></linearGradient>
<linearGradient id="gleft" x1="0" x2="1" y1="0" y2="0"><stop offset="0" stop-color="#7e5a22"/><stop offset="1" stop-color="#855d22"/></linearGradient>
</defs>
<rect x="610.4" y="957.4" width="719.8" height="151" fill="url(#gsub)"/>
<g mask="url(#mrefl)" opacity="0.62"><path d="M857 990.5L911 1016L1028.2 1000.5V1112H857Z" fill="#c8b491"/><path d="M857 990.5L911 1016V1112H857Z" fill="#8c826e"/><path d="M912 1017.3L1027.5 1002" stroke="#e4dcc8" stroke-width="2.5" fill="none" opacity="0.7"/></g>
<g stroke-linejoin="round" stroke-width="7">
<path d="M859.9 858.6L972 843.3L1025 871.2L1025 995L911.5 1010L859.9 985.7Z" fill="#c08a33" stroke="#c08a33"/>
</g>
<g stroke-linejoin="round" stroke-width="5">
<path d="M861 857.8L972 842.6L1023.5 869.5L912 884Z" fill="url(#gtop)" stroke="#b07e2e"/>
<path d="M859 860.5L908 886.5L908 1008.5L859 985.5Z" fill="url(#gleft)" stroke="#825c22"/>
<path d="M914.5 888L1025.5 873L1025.5 995L914.5 1010Z" fill="url(#gfront)" stroke="#db9b3b"/>
</g>
<path d="M913 886.3L1026 871" stroke="#e6aa4c" stroke-width="2.2" fill="none" opacity="0.8" filter="url(#bl1)"/>
<path d="M911.2 888V1010" stroke="#b07c2e" stroke-width="3.5" fill="none" opacity="0.9" filter="url(#bl1)"/>
<path d="M860 858.5L910 885" stroke="#9a6e28" stroke-width="3" fill="none" opacity="0.9" filter="url(#bl1)"/>
<defs><radialGradient id="gsph" cx="0.38" cy="0.32" r="0.75"><stop offset="0" stop-color="#ff9a8a"/><stop offset="0.25" stop-color="#e8202a"/><stop offset="0.7" stop-color="#c4101c"/><stop offset="1" stop-color="#8a0a12"/></radialGradient></defs>
<g transform="translate(859 828.5) rotate(28.5)"><path d="M-2.4 24V-20H2.4V24Z" fill="#dc1f2b"/><path d="M0 -35L8.6 -16.5L0 -19.5L-8.6 -16.5Z" fill="#dc1f2b"/></g>
<circle cx="859" cy="828.5" r="10.6" fill="url(#gsph)"/>
<g fill="none" stroke="#e50012" stroke-width="3.2">
<path d="M896.1 671.4A191.7 191.7 0 0 1 1144.9 795.4"/>
<path d="M905.1 695.2A169.2 169.2 0 0 1 1123.2 803.9"/>
<path d="M912.8 717.8A147 147 0 0 1 1101.6 810.7"/>
<path d="M919.4 739.3A125.9 125.9 0 0 1 1081.2 818.6"/>
<path d="M926.7 760.9A105 105 0 0 1 1061.4 826.8"/>
</g>
<g font-family='"Liberation Serif", serif' fill="#000"><text font-size="38"><tspan x="1052" y="886" font-size="30">˜</tspan><tspan x="1046" y="893.4" font-style="italic">ρ</tspan><tspan x="1065.5" y="901.5" font-size="27" font-style="italic">μ</tspan><tspan x="1085" y="893.8" font-size="41">(</tspan><tspan x="1099.5" y="893.4" font-style="italic" textLength="28.5" lengthAdjust="spacingAndGlyphs">ω</tspan><tspan x="1128.5" y="893.4">,</tspan><tspan x="1147" y="893.4" font-weight="bold">r</tspan><tspan x="1165" y="893.8" font-size="41">)</tspan></text></g>
<!-- sec_arrows -->
<path id="yarm" d="M813 757.9H804.1C802.5 722 793 693 777.5 671L717.5 608.8L716 629.1L682.6 565.1L740.4 584.8L728.4 595.7L790.5 664C802 678 808.5 694 812.4 712.5H813Z" fill="#000"/>
<use href="#yarm" transform="translate(1624.8 0) scale(-1 1)"/>
<g transform="translate(0 1913) scale(1 -1)"><use href="#yarm"/><use href="#yarm" transform="translate(1624.8 0) scale(-1 1)"/></g>
<!-- sec_d -->
<text x="75" y="1289.1" font-family='"Liberation Sans", sans-serif' font-weight="bold" font-size="51">LDOS decomposition</text>
<clipPath id="cpD"><rect x="143.4" y="1335.2" width="490.7" height="315.3"/></clipPath>
<path d="M270.1 1338.2V1648.3M506.3 1338.2V1648.3" stroke="#111" stroke-width="1.6" stroke-dasharray="3.4 3.4" fill="none"/>
<rect x="143.4" y="1338.2" width="489.9" height="310.1" fill="none" stroke="#000" stroke-width="1.7"/>
<path d="M165.7 1338.2v6M165.7 1648.3v-6M276.9 1338.2v6M276.9 1648.3v-6M388.1 1338.2v6M388.1 1648.3v-6M499.3 1338.2v6M499.3 1648.3v-6M610.5 1338.2v6M610.5 1648.3v-6M143.4 1560.66h6.5M633.3 1560.66h-6.5M143.4 1473.02h6.5M633.3 1473.02h-6.5M143.4 1385.38h6.5M633.3 1385.38h-6.5" stroke="#000" stroke-width="1.5" fill="none"/>
<path d="M143.5 1647.6L156.13 1647.6L167.95 1647.58L178.95 1647.57L189.09 1647.54L198.36 1647.5L206.73 1647.46L214.19 1647.41L220.7 1647.35L226.25 1647.28L230.8 1647.06L234.65 1646.7L238.17 1646.25L241.67 1645.75L245.01 1645.07L248.13 1644.19L251.03 1643.03L253.81 1641.23L256.35 1638.93L258.49 1636.33L260.33 1633.19L261.98 1629.54L263.43 1625.65L264.73 1621.72L265.91 1617.58L266.98 1613.24L267.95 1608.75L268.84 1604.16L269.64 1599.36L270.37 1594.41L271.08 1589.39L271.79 1584.4L272.53 1579.44L273.26 1574.4L274 1569.39L274.75 1564.49L275.53 1559.83L276.31 1555.28L277.1 1550.82L277.97 1546.66L278.99 1543.01L280.33 1539.37L281.95 1536.07L283.68 1534.6L285.57 1535.47L287.51 1537.41L289.11 1539.78L290.51 1543.11L291.86 1546.96L293.33 1550.82L294.87 1554.82L296.46 1559.05L298.13 1563.41L299.91 1567.79L301.82 1572.24L303.86 1576.84L306.02 1581.44L308.29 1585.91L310.66 1590.13L313.19 1594.22L315.87 1598.18L318.66 1601.96L321.55 1605.49L324.53 1608.76L327.63 1611.87L330.86 1614.76L334.2 1617.42L337.68 1619.86L341.3 1622.17L345.07 1624.28L348.96 1626.09L353 1627.62L357.21 1629.07L361.56 1630.32L365.98 1631.23L370.45 1631.76L375.08 1632.18L379.77 1632.52L384.43 1632.74L388.95 1632.79L393.39 1632.43L397.76 1631.68L402.02 1630.72L406.12 1629.72L410.06 1628.59L413.88 1627.21L417.55 1625.65L421.04 1623.98L424.35 1622.07L427.53 1619.94L430.61 1617.68L433.62 1615.31L436.53 1612.77L439.37 1610.1L442.16 1607.34L444.94 1604.48L447.69 1601.51L450.33 1598.47L452.79 1595.42L455.06 1592.32L457.22 1589.18L459.33 1586L461.46 1582.77L463.57 1579.45L465.65 1576.14L467.68 1572.97L469.63 1569.85L471.53 1566.82L473.48 1564.11L475.61 1561.63L477.87 1559.26L480 1558.2L481.94 1559.12L483.68 1561.07L485.1 1563.47L486.34 1566.78L487.49 1570.64L488.64 1574.68L489.78 1579.21L490.88 1584.17L491.96 1589.35L493.03 1594.54L494.08 1599.66L495.07 1605.01L496.05 1610.42L497.06 1615.68L498.14 1620.57L499.29 1625.05L500.48 1629.38L501.78 1633.37L503.3 1636.79L505.19 1639.69L507.55 1642.3L510.26 1644.28L513.23 1645.44L516.59 1646.36L520.4 1647.02L524.69 1647.31L529.64 1647.4L535.25 1647.48L541.41 1647.53L548.01 1647.57L554.94 1647.6L562.09 1647.6L569.59 1647.6L577.49 1647.6L585.79 1647.6L594.47 1647.6L603.55 1647.6L613 1647.6L622.82 1647.6L633 1647.6" stroke="#0b67c2" stroke-width="1.7" stroke-dasharray="4.2 3" fill="none" clip-path="url(#cpD)"/>
<path d="M143.5 1647.3L150.78 1647.3L157.72 1647.3L164.31 1647.29L170.54 1647.28L176.41 1647.27L181.9 1647.26L187.01 1647.25L191.73 1647.23L196.06 1647.22L199.98 1647.2L203.43 1647.18L206.47 1647.15L209.24 1647.11L211.88 1647.06L214.55 1647.01L217.27 1646.95L219.88 1646.87L222.46 1646.77L225.06 1646.63L227.76 1646.47L230.6 1646.17L233.54 1645.71L236.48 1645.12L239.33 1644.43L241.99 1643.67L244.51 1642.73L246.97 1641.51L249.31 1640.09L251.46 1638.52L253.37 1636.87L255.13 1634.96L256.77 1632.8L258.27 1630.51L259.62 1628.19L260.81 1625.91L261.89 1623.61L262.87 1621.26L263.78 1618.83L264.63 1616.3L265.44 1613.63L266.2 1610.84L266.92 1607.97L267.6 1605.08L268.23 1602.21L268.83 1599.42L269.38 1596.68L269.91 1593.92L270.41 1591.07L270.89 1588.06L271.35 1584.82L271.81 1581.37L272.25 1577.77L272.68 1574.05L273.08 1570.27L273.45 1566.46L273.79 1562.67L274.1 1558.84L274.38 1554.95L274.65 1551.01L274.91 1547.05L275.16 1543.08L275.42 1539.13L275.68 1535.2L275.94 1531.35L276.2 1527.55L276.45 1523.75L276.71 1519.9L276.96 1515.95L277.22 1511.85L277.49 1507.55L277.76 1503.08L278.03 1498.47L278.3 1493.72L278.58 1488.85L278.86 1483.86L279.14 1478.77L279.42 1473.59L279.7 1468.33L279.98 1462.95L280.25 1457.3L280.52 1451.43L280.79 1445.39L281.06 1439.27L281.33 1433.12L281.61 1427L281.91 1420.99L282.21 1415.14L282.54 1409.52L282.88 1404.18L283.25 1398.98L283.64 1393.85L284.06 1388.81L284.49 1383.9L284.94 1379.13L285.41 1374.54L285.89 1370.15L286.38 1365.99L286.87 1362L287.37 1358.04L287.88 1354.22L288.43 1350.63L289.02 1347.39L289.67 1344.6L290.42 1342.31L291.31 1340.32L292.32 1338.63L293.4 1337.3L294.48 1338.53L295.52 1340.09L296.51 1341.94L297.43 1344.04L298.26 1346.59L299.04 1349.54L299.81 1352.8L300.61 1356.31L301.48 1359.97L302.46 1363.75L303.53 1367.82L304.67 1372.19L305.88 1376.82L307.14 1381.65L308.47 1386.63L309.84 1391.73L311.27 1396.89L312.73 1402.07L314.24 1407.24L315.88 1412.66L317.65 1418.35L319.51 1424.22L321.44 1430.2L323.42 1436.2L325.41 1442.16L327.38 1447.99L329.31 1453.62L331.17 1458.96L332.92 1463.94L334.56 1468.51L336.09 1472.79L337.55 1476.86L338.97 1480.75L340.38 1484.5L341.79 1488.17L343.23 1491.79L344.74 1495.4L346.31 1499.04L347.89 1502.69L349.49 1506.3L351.13 1509.83L352.82 1513.24L354.56 1516.47L356.36 1519.48L358.26 1522.3L360.28 1525.04L362.37 1527.65L364.51 1530.09L366.66 1532.32L368.79 1534.31L370.88 1536.13L372.97 1537.86L375.07 1539.41L377.19 1540.7L379.33 1541.62L381.49 1542.36L383.68 1543L385.88 1543.47L388.1 1543.7L390.32 1543.47L392.52 1543L394.71 1542.36L396.87 1541.62L399.01 1540.7L401.13 1539.41L403.23 1537.86L405.32 1536.13L407.41 1534.31L409.54 1532.32L411.69 1530.09L413.83 1527.65L415.92 1525.04L417.94 1522.3L419.84 1519.48L421.64 1516.47L423.38 1513.24L425.07 1509.83L426.71 1506.3L428.31 1502.69L429.89 1499.04L431.46 1495.4L432.97 1491.79L434.41 1488.17L435.82 1484.5L437.23 1480.75L438.65 1476.86L440.11 1472.79L441.64 1468.51L443.28 1463.94L445.03 1458.96L446.89 1453.62L448.82 1447.99L450.79 1442.16L452.78 1436.2L454.76 1430.2L456.69 1424.22L458.55 1418.35L460.32 1412.66L461.96 1407.24L463.47 1402.07L464.93 1396.89L466.36 1391.73L467.73 1386.63L469.06 1381.65L470.32 1376.82L471.53 1372.19L472.67 1367.82L473.74 1363.75L474.72 1359.97L475.59 1356.31L476.39 1352.8L477.16 1349.54L477.94 1346.59L478.77 1344.04L479.69 1341.94L480.68 1340.09L481.72 1338.53L482.8 1337.3L483.88 1338.63L484.89 1340.32L485.78 1342.31L486.53 1344.6L487.18 1347.39L487.77 1350.63L488.32 1354.22L488.83 1358.04L489.33 1362L489.82 1365.99L490.31 1370.15L490.79 1374.54L491.26 1379.13L491.71 1383.9L492.14 1388.81L492.56 1393.85L492.95 1398.98L493.32 1404.18L493.66 1409.52L493.99 1415.14L494.29 1420.99L494.59 1427L494.87 1433.12L495.14 1439.27L495.41 1445.39L495.68 1451.43L495.95 1457.3L496.22 1462.95L496.5 1468.33L496.78 1473.59L497.06 1478.77L497.34 1483.86L497.62 1488.85L497.9 1493.72L498.17 1498.47L498.44 1503.08L498.71 1507.55L498.98 1511.85L499.24 1515.95L499.49 1519.9L499.75 1523.75L500 1527.55L500.26 1531.35L500.52 1535.2L500.78 1539.13L501.04 1543.08L501.29 1547.05L501.55 1551.01L501.82 1554.95L502.1 1558.84L502.41 1562.67L502.75 1566.46L503.12 1570.27L503.52 1574.05L503.95 1577.77L504.39 1581.37L504.85 1584.82L505.31 1588.06L505.79 1591.07L506.29 1593.92L506.82 1596.68L507.37 1599.42L507.97 1602.21L508.6 1605.08L509.28 1607.97L510 1610.84L510.76 1613.63L511.57 1616.3L512.42 1618.83L513.33 1621.26L514.31 1623.61L515.39 1625.91L516.58 1628.19L517.93 1630.51L519.43 1632.8L521.07 1634.96L522.83 1636.87L524.74 1638.52L526.89 1640.09L529.23 1641.51L531.69 1642.73L534.21 1643.67L536.87 1644.43L539.72 1645.12L542.66 1645.71L545.6 1646.17L548.44 1646.47L551.14 1646.63L553.74 1646.77L556.32 1646.87L558.93 1646.95L561.65 1647.01L564.32 1647.06L566.96 1647.11L569.73 1647.15L572.77 1647.18L576.22 1647.2L580.14 1647.22L584.47 1647.23L589.19 1647.25L594.3 1647.26L599.79 1647.27L605.66 1647.28L611.89 1647.29L618.48 1647.3L625.42 1647.3L632.7 1647.3" stroke="#0d66bd" stroke-width="3.7" fill="none" stroke-linejoin="round" clip-path="url(#cpD)"/>
<g font-family='"Liberation Sans", sans-serif' font-size="36.4" fill="#000">
<text x="165.7" y="1687" text-anchor="middle">-100</text>
<text x="276.9" y="1687" text-anchor="middle">-50</text>
<text x="388.1" y="1687" text-anchor="middle">0</text>
<text x="499.3" y="1687" text-anchor="middle">50</text>
<text x="610.5" y="1687" text-anchor="middle">100</text>
<text x="140.8" y="1664.5" text-anchor="end">0</text>
<text x="135.6" y="1572" text-anchor="end">200</text>
<text x="135.6" y="1485" text-anchor="end">400</text>
<text x="140.5" y="1391.1" text-anchor="end">600</text>
</g>
<text x="198.4" y="1737.8" font-family='"Liberation Sans", sans-serif' font-size="44.5">Emitter position [nm]</text>
<text transform="translate(40 1502) rotate(-90)" font-family='"Liberation Sans", sans-serif' font-size="44.6" text-anchor="middle">LDOS</text>
<text transform="translate(544.4 1522.5) rotate(-90)" font-family='"Liberation Sans", sans-serif' font-size="29.2">Cube Corner</text>
<text x="151" y="1391.7" font-family='"Liberation Sans", sans-serif' font-size="61" fill="#111">(d)</text>
<rect x="158.5" y="1405.4" width="214" height="61" fill="#fff" stroke="#000" stroke-width="1.7"/>
<path d="M165.3 1422.2H231.9" stroke="#55a3dc" stroke-width="2.4" fill="none"/>
<path d="M165.3 1450.4H231.9" stroke="#0b67c2" stroke-width="1.7" stroke-dasharray="5 3.3" fill="none"/>
<text x="238" y="1430.4" font-family='"Liberation Sans", sans-serif' font-size="20.2">Total</text>
<text x="236.3" y="1458.4" font-family='"Liberation Sans", sans-serif' font-size="20.2">Ohmic part</text>
<!-- sec_e -->
<text x="1078" y="1288.9" font-family='"Liberation Sans", sans-serif' font-weight="bold" font-size="51">Angular emission</text>
<path d="M1172.3 1649.0A120 120 0 0 1 1412.3 1649.0M1112.3 1649.0A180 180 0 0 1 1472.3 1649.0M1052.3 1649.0A240 240 0 0 1 1532.3 1649.0M1292.3 1649.0L1032.32 1498.9M1292.3 1649.0L1142.2 1389.02M1292.3 1649.0L1292.3 1348.8M1292.3 1649.0L1442.4 1389.02M1292.3 1649.0L1552.28 1498.9" stroke="#1a1a1a" stroke-width="1.05" fill="none"/>
<path d="M1232.1 1649.0A60.2 60.2 0 0 1 1352.5 1649.0" stroke="#000" stroke-width="1.8" fill="none"/>
<path d="M992.1 1649.0A300.2 300.2 0 0 1 1592.5 1649.0Z" stroke="#000" stroke-width="2" fill="none"/>
<g fill="none" stroke-width="3.8" stroke-linejoin="round" stroke-linecap="round">
<path d="M1292.36 1648.89L1291.43 1644.61L1290.73 1639.66L1289.85 1634.82L1288.81 1630.07L1287.6 1625.41L1286.24 1620.85L1284.72 1616.37L1283.06 1611.99L1281.24 1607.7L1279.29 1603.49L1277.21 1599.37L1274.99 1595.33L1272.64 1591.37L1270.18 1587.5L1267.59 1583.7L1264.89 1579.99L1262.09 1576.35L1259.18 1572.79L1256.17 1569.3L1253.06 1565.88L1249.87 1562.54L1246.59 1559.26L1243.22 1556.06L1239.78 1552.92L1236.27 1549.84L1232.69 1546.84L1229.05 1543.89L1225.34 1541.01L1221.58 1538.18L1217.78 1535.42L1213.93 1532.71L1210.03 1530.06L1206.1 1527.46L1202.14 1524.92L1198.15 1522.42L1194.14 1519.98L1190.09 1517.6L1186.02 1515.28L1181.92 1513.03L1177.79 1510.85L1173.63 1508.74L1169.43 1506.72L1165.2 1504.78L1160.93 1502.93L1156.62 1501.17L1152.27 1499.51L1147.89 1497.96L1143.46 1496.51L1138.98 1495.17L1134.47 1493.95L1129.9 1492.85L1125.29 1491.88L1120.63 1491.04L1115.92 1490.33L1111.16 1489.76L1106.35 1489.33L1101.48 1489.05L1096.56 1488.93L1091.58 1488.96L1086.57 1489.16L1081.57 1489.56L1076.63 1490.17L1071.8 1491.01L1067.12 1492.12L1062.64 1493.5L1058.41 1495.18L1054.48 1497.19L1050.89 1499.54L1047.69 1502.26L1044.92 1505.36L1042.62 1508.85L1040.8 1512.66L1039.45 1516.74L1038.59 1521.03L1038.22 1525.45L1038.34 1529.96L1038.96 1534.5L1040.08 1538.99L1041.67 1543.4L1043.68 1547.7L1046.03 1551.88L1048.67 1555.89L1051.52 1559.74L1054.55 1563.39L1057.74 1566.88L1061.08 1570.19L1064.56 1573.36L1068.17 1576.38L1071.9 1579.26L1075.73 1582.02L1079.66 1584.67L1083.67 1587.21L1087.74 1589.67L1091.88 1592.04L1096.07 1594.34L1100.3 1596.58L1104.55 1598.77L1108.82 1600.91L1113.09 1603.03L1117.36 1605.11L1121.64 1607.17L1125.92 1609.19L1130.2 1611.17L1134.49 1613.12L1138.79 1615.04L1143.09 1616.91L1147.4 1618.75L1151.72 1620.54L1156.04 1622.3L1160.37 1624.01L1164.72 1625.67L1169.07 1627.29L1173.43 1628.86L1177.81 1630.38L1182.2 1631.86L1186.6 1633.28L1191.01 1634.64L1195.43 1635.96L1199.87 1637.22L1204.33 1638.42L1208.8 1639.56L1213.29 1640.65L1217.79 1641.67L1222.31 1642.63L1226.85 1643.53L1231.41 1644.36L1235.98 1645.13L1240.58 1645.83L1245.2 1646.47L1249.84 1647.03L1254.49 1647.52L1259.18 1647.94L1263.88 1648.28L1268.61 1648.55L1273.36 1648.75L1278.14 1648.86L1282.94 1648.9L1287.77 1648.86L1292.36 1648.89" stroke="#4682b4"/>
<path d="M1292.19 1648.89L1292.36 1644.39L1293.16 1639.09L1294.13 1633.92L1295.25 1628.88L1296.52 1623.97L1297.93 1619.17L1299.5 1614.49L1301.2 1609.93L1303.04 1605.47L1305.02 1601.12L1307.13 1596.87L1309.36 1592.72L1311.72 1588.67L1314.2 1584.7L1316.8 1580.83L1319.52 1577.04L1322.34 1573.33L1325.27 1569.7L1328.31 1566.15L1331.45 1562.66L1334.68 1559.24L1338.01 1555.89L1341.43 1552.59L1344.94 1549.35L1348.53 1546.17L1352.2 1543.03L1355.95 1539.94L1359.78 1536.89L1363.67 1533.88L1367.63 1530.9L1371.66 1527.96L1375.74 1525.04L1379.89 1522.15L1384.09 1519.3L1388.34 1516.49L1392.64 1513.74L1396.98 1511.04L1401.37 1508.4L1405.8 1505.84L1410.26 1503.35L1414.76 1500.95L1419.3 1498.64L1423.86 1496.42L1428.44 1494.32L1433.05 1492.32L1437.68 1490.45L1442.33 1488.7L1447 1487.09L1451.67 1485.61L1456.35 1484.29L1461.04 1483.11L1465.73 1482.1L1470.43 1481.26L1475.12 1480.59L1479.8 1480.1L1484.48 1479.8L1489.14 1479.7L1493.79 1479.8L1498.43 1480.11L1503.04 1480.63L1507.63 1481.38L1512.2 1482.36L1516.74 1483.58L1521.25 1485.04L1525.72 1486.75L1530.15 1488.72L1534.55 1490.95L1538.9 1493.46L1543.15 1496.24L1547.15 1499.29L1550.77 1502.63L1553.87 1506.23L1556.32 1510.11L1557.98 1514.26L1558.7 1518.69L1558.41 1523.37L1557.26 1528.2L1555.51 1533.02L1553.39 1537.71L1551.04 1542.19L1548.47 1546.47L1545.69 1550.56L1542.73 1554.47L1539.58 1558.21L1536.26 1561.79L1532.78 1565.22L1529.17 1568.5L1525.42 1571.64L1521.55 1574.66L1517.58 1577.57L1513.51 1580.37L1509.36 1583.07L1505.15 1585.68L1500.87 1588.21L1496.55 1590.67L1492.2 1593.08L1487.83 1595.42L1483.45 1597.73L1479.05 1599.99L1474.64 1602.2L1470.23 1604.36L1465.8 1606.48L1461.36 1608.55L1456.9 1610.58L1452.44 1612.55L1447.96 1614.48L1443.46 1616.36L1438.96 1618.19L1434.44 1619.97L1429.91 1621.71L1425.37 1623.39L1420.81 1625.02L1416.24 1626.6L1411.65 1628.13L1407.05 1629.61L1402.44 1631.04L1397.81 1632.42L1393.17 1633.74L1388.51 1635.01L1383.83 1636.23L1379.14 1637.39L1374.44 1638.51L1369.72 1639.56L1364.99 1640.57L1360.23 1641.51L1355.47 1642.41L1350.68 1643.24L1345.88 1644.03L1341.07 1644.75L1336.23 1645.42L1331.38 1646.04L1326.52 1646.59L1321.63 1647.09L1316.73 1647.53L1311.81 1647.91L1306.87 1648.24L1301.92 1648.5L1296.94 1648.71L1292.19 1648.89" stroke="#4682b4"/>
<path d="M1292.3 1649L1291.92 1648.99L1291.12 1648.96L1289.99 1648.88L1288.6 1648.74L1286.96 1648.53L1285.11 1648.24L1283.06 1647.86L1280.82 1647.39L1278.41 1646.8L1275.85 1646.1L1273.14 1645.28L1270.31 1644.32L1267.35 1643.24L1264.29 1642.02L1261.13 1640.65L1257.88 1639.13L1254.56 1637.46L1251.18 1635.64L1247.74 1633.66L1244.26 1631.52L1240.75 1629.21L1237.22 1626.75L1233.68 1624.12L1230.14 1621.32L1226.61 1618.37L1223.1 1615.25L1219.62 1611.97L1216.18 1608.53L1212.79 1604.93L1209.46 1601.17L1206.2 1597.26L1203.02 1593.21L1199.92 1589.01L1196.92 1584.66L1194.02 1580.19L1191.24 1575.58L1188.58 1570.84L1186.04 1565.98L1183.64 1561.01L1181.39 1555.93L1179.28 1550.76L1177.33 1545.48L1175.54 1540.12L1173.92 1534.68L1172.48 1529.18L1171.21 1523.6L1170.12 1517.98L1169.22 1512.3L1168.51 1506.59L1167.99 1500.86L1167.67 1495.1L1167.55 1489.33L1167.63 1483.56L1167.92 1477.8L1168.41 1472.06L1169.1 1466.34L1169.99 1460.67L1171.1 1455.03L1172.4 1449.46L1173.91 1443.95L1175.62 1438.51L1177.53 1433.16L1179.64 1427.9L1181.95 1422.74L1184.44 1417.69L1187.12 1412.76L1189.99 1407.97L1193.03 1403.3L1196.25 1398.79L1199.64 1394.42L1203.19 1390.22L1206.9 1386.18L1210.77 1382.32L1214.78 1378.64L1218.92 1375.15L1223.2 1371.86L1227.6 1368.76L1232.12 1365.87L1236.75 1363.2L1241.47 1360.73L1246.29 1358.5L1251.19 1356.48L1256.16 1354.69L1261.2 1353.14L1266.3 1351.82L1271.44 1350.73L1276.62 1349.89L1281.83 1349.28L1287.06 1348.92L1292.3 1348.8L1297.54 1348.92L1302.77 1349.28L1307.98 1349.89L1313.16 1350.73L1318.3 1351.82L1323.4 1353.14L1328.44 1354.69L1333.41 1356.48L1338.31 1358.5L1343.13 1360.73L1347.85 1363.2L1352.48 1365.87L1357 1368.76L1361.4 1371.86L1365.68 1375.15L1369.82 1378.64L1373.83 1382.32L1377.7 1386.18L1381.41 1390.22L1384.96 1394.42L1388.35 1398.79L1391.57 1403.3L1394.61 1407.97L1397.48 1412.76L1400.16 1417.69L1402.65 1422.74L1404.96 1427.9L1407.07 1433.16L1408.98 1438.51L1410.69 1443.95L1412.2 1449.46L1413.5 1455.03L1414.61 1460.67L1415.5 1466.34L1416.19 1472.06L1416.68 1477.8L1416.97 1483.56L1417.05 1489.33L1416.93 1495.1L1416.61 1500.86L1416.09 1506.59L1415.38 1512.3L1414.48 1517.98L1413.39 1523.6L1412.12 1529.18L1410.68 1534.68L1409.06 1540.12L1407.27 1545.48L1405.32 1550.76L1403.21 1555.93L1400.96 1561.01L1398.56 1565.98L1396.02 1570.84L1393.36 1575.58L1390.58 1580.19L1387.68 1584.66L1384.68 1589.01L1381.58 1593.21L1378.4 1597.26L1375.14 1601.17L1371.81 1604.93L1368.42 1608.53L1364.98 1611.97L1361.5 1615.25L1357.99 1618.37L1354.46 1621.32L1350.92 1624.12L1347.38 1626.75L1343.85 1629.21L1340.34 1631.52L1336.86 1633.66L1333.42 1635.64L1330.04 1637.46L1326.72 1639.13L1323.47 1640.65L1320.31 1642.02L1317.25 1643.24L1314.29 1644.32L1311.46 1645.28L1308.75 1646.1L1306.19 1646.8L1303.78 1647.39L1301.54 1647.86L1299.49 1648.24L1297.64 1648.53L1296 1648.74L1294.61 1648.88L1293.48 1648.96L1292.68 1648.99L1292.3 1649" stroke="#e6323c"/>
<path d="M1292.36 1648.89L1287.27 1648.87L1282.13 1648.36L1277 1647.82L1271.87 1647.26L1266.75 1646.67L1261.64 1646.04L1256.55 1645.38L1251.46 1644.68L1246.38 1643.95L1241.32 1643.17L1236.27 1642.34L1231.23 1641.47L1226.21 1640.55L1221.21 1639.57L1216.22 1638.55L1211.25 1637.46L1206.3 1636.31L1201.37 1635.11L1196.46 1633.84L1191.57 1632.5L1186.7 1631.09L1181.86 1629.61L1177.04 1628.06L1172.25 1626.42L1167.48 1624.71L1162.74 1622.92L1158.03 1621.05L1153.35 1619.08L1148.69 1617.03L1144.07 1614.89L1139.48 1612.65L1134.92 1610.32L1130.39 1607.89L1125.9 1605.36L1121.45 1602.72L1117.03 1599.97L1112.64 1597.12L1108.3 1594.16L1104 1591.08L1099.75 1587.9L1095.57 1584.6L1091.48 1581.2L1087.49 1577.7L1083.6 1574.09L1079.85 1570.39L1076.23 1566.58L1072.76 1562.68L1069.47 1558.68L1066.35 1554.6L1063.43 1550.42L1060.72 1546.16L1058.23 1541.81L1055.98 1537.37L1053.98 1532.86L1052.25 1528.26L1050.79 1523.59L1049.63 1518.84L1048.78 1514.02L1048.24 1509.12L1048.04 1504.16L1048.17 1499.15L1048.62 1494.11L1049.38 1489.06L1050.45 1484.03L1051.8 1479.04L1053.45 1474.12L1055.37 1469.28L1057.55 1464.55L1059.99 1459.96L1062.67 1455.52L1065.59 1451.26L1068.74 1447.2L1072.1 1443.36L1075.67 1439.75L1079.43 1436.34L1083.36 1433.14L1087.46 1430.14L1091.7 1427.32L1096.07 1424.69L1100.57 1422.24L1105.16 1419.95L1109.85 1417.82L1114.61 1415.85L1119.45 1414.03L1124.35 1412.36L1129.31 1410.84L1134.33 1409.47L1139.39 1408.23L1144.5 1407.14L1149.64 1406.19L1154.81 1405.37L1160.01 1404.68L1165.22 1404.12L1170.45 1403.7L1175.68 1403.4L1180.92 1403.22L1186.15 1403.16L1191.37 1403.22L1196.57 1403.4L1201.75 1403.69L1206.89 1404.09L1212.01 1404.6L1217.08 1405.22L1222.11 1405.94L1227.09 1406.76L1232.02 1407.68L1236.92 1408.7L1241.77 1409.81L1246.59 1411L1251.37 1412.29L1256.12 1413.65L1260.85 1415.1L1265.55 1416.63L1270.23 1418.23L1274.89 1419.9L1279.53 1421.64L1284.16 1423.44L1288.78 1425.31L1293.39 1427.24L1298 1429.23L1302.6 1431.27L1307.21 1433.36L1311.81 1435.49L1316.43 1437.68L1321.06 1439.9L1325.69 1442.17L1330.35 1444.47L1335.02 1446.8L1339.71 1449.16L1344.42 1451.55L1349.16 1453.97L1353.94 1456.41L1358.73 1458.86L1363.55 1461.35L1368.36 1463.87L1373.15 1466.42L1377.92 1469.02L1382.65 1471.67L1387.32 1474.37L1391.92 1477.14L1396.44 1479.97L1400.86 1482.87L1405.17 1485.86L1409.35 1488.92L1413.4 1492.08L1417.29 1495.33L1421.01 1498.69L1424.56 1502.15L1427.91 1505.72L1431.05 1509.41L1433.97 1513.22L1436.65 1517.17L1439.08 1521.25L1441.25 1525.47L1443.14 1529.84L1444.74 1534.36L1446.03 1539.04L1447.01 1543.87L1447.65 1548.82L1447.95 1553.84L1447.9 1558.9L1447.49 1563.97L1446.71 1568.99L1445.53 1573.93L1443.97 1578.76L1442 1583.44L1439.67 1587.96L1436.98 1592.28L1433.96 1596.41L1430.64 1600.32L1427.04 1604.01L1423.19 1607.5L1419.12 1610.79L1414.86 1613.89L1410.43 1616.8L1405.87 1619.54L1401.19 1622.1L1396.43 1624.5L1391.62 1626.74L1386.78 1628.83L1381.92 1630.77L1377.05 1632.59L1372.17 1634.27L1367.27 1635.82L1362.36 1637.26L1357.44 1638.6L1352.51 1639.82L1347.56 1640.96L1342.6 1642L1337.63 1642.96L1332.64 1643.84L1327.64 1644.65L1322.63 1645.41L1317.61 1646.1L1312.57 1646.75L1307.52 1647.35L1302.46 1647.92L1297.39 1648.46L1292.19 1648.89" stroke="#5fb95a"/>
</g>
<g font-family='"Liberation Sans", sans-serif' font-size="37.2" fill="#000">
<text x="1292.3" y="1340.5" text-anchor="middle">0</text>
<text x="1132.3" y="1384" text-anchor="end">-30</text>
<text x="1018" y="1502.9" text-anchor="end">-60</text>
<text x="973.5" y="1663.2" text-anchor="end">-90</text>
<text x="1449.8" y="1384" text-anchor="start">30</text>
<text x="1563.8" y="1503.5" text-anchor="start">60</text>
<text x="1606" y="1663.2" text-anchor="start">90</text>
</g>
<text x="1143" y="1737" font-family='"Liberation Sans", sans-serif' font-size="44.1">Angular emission</text>
<text x="967.5" y="1385.6" font-family='"Liberation Sans", sans-serif' font-size="61" fill="#111">(e)</text>
</svg></body></html>
